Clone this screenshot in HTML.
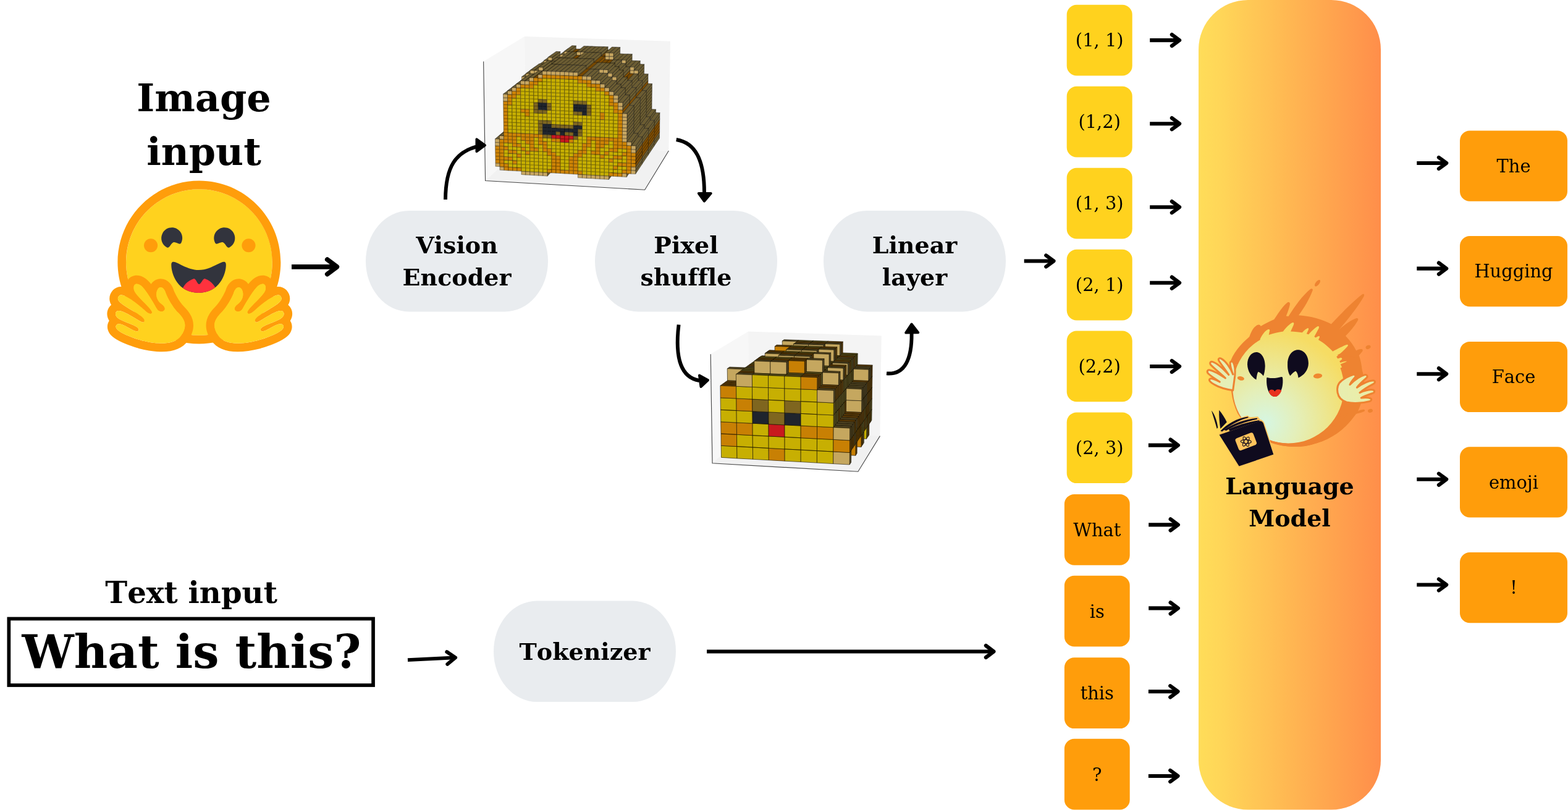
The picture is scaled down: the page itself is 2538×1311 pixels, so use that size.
<!DOCTYPE html>
<html lang="en">
<head>
<meta charset="utf-8">
<title>Vision language model pipeline</title>
<style>
html,body{margin:0;padding:0;background:#fff;}
body{width:2538px;height:1311px;overflow:hidden;}
svg{display:block;will-change:transform;}
text{font-family:"DejaVu Serif","Liberation Serif",serif;fill:#000;font-kerning:none;font-variant-ligatures:none;font-feature-settings:"liga" 0,"kern" 0;}
</style>
</head>
<body>
<svg width="2538" height="1311" viewBox="0 0 2538 1311">
<defs>
<linearGradient id="lmg" gradientUnits="userSpaceOnUse" x1="1940" y1="0" x2="2235" y2="0">
<stop offset="0" stop-color="#FFDD59"/>
<stop offset="0.12" stop-color="#FFD658"/>
<stop offset="1" stop-color="#FF8E4A"/>
</linearGradient>
</defs>
<rect x="1940" y="0" width="295" height="1310.5" rx="80" ry="80" fill="url(#lmg)"/>
<rect x="592" y="341" width="295" height="163.4" rx="70" ry="81.7" fill="#E9ECEF"/>
<rect x="963" y="341" width="295" height="163.4" rx="70" ry="81.7" fill="#E9ECEF"/>
<rect x="1333" y="341" width="295" height="163.4" rx="70" ry="81.7" fill="#E9ECEF"/>
<rect x="799" y="972.6" width="295" height="163.4" rx="70" ry="81.7" fill="#E9ECEF"/>
<rect x="1726.7" y="7.8" width="106" height="114.7" rx="16" fill="#FFD21E"/>
<rect x="1726.7" y="139.8" width="106" height="114.7" rx="16" fill="#FFD21E"/>
<rect x="1726.7" y="271.8" width="106" height="114.7" rx="16" fill="#FFD21E"/>
<rect x="1726.7" y="403.8" width="106" height="114.7" rx="16" fill="#FFD21E"/>
<rect x="1726.7" y="535.5" width="106" height="114.7" rx="16" fill="#FFD21E"/>
<rect x="1726.7" y="667.4" width="106" height="114.7" rx="16" fill="#FFD21E"/>
<rect x="1722.9" y="799.9" width="105.8" height="114.8" rx="16" fill="#FF9D0B"/>
<rect x="1722.9" y="931.7" width="105.8" height="114.8" rx="16" fill="#FF9D0B"/>
<rect x="1722.9" y="1064.3" width="105.8" height="114.8" rx="16" fill="#FF9D0B"/>
<rect x="1722.9" y="1195.7" width="105.8" height="114.8" rx="16" fill="#FF9D0B"/>
<rect x="2363" y="211.6" width="174" height="114.2" rx="16" fill="#FF9D0B"/>
<rect x="2363" y="382.0" width="174" height="114.2" rx="16" fill="#FF9D0B"/>
<rect x="2363" y="552.9" width="174" height="114.2" rx="16" fill="#FF9D0B"/>
<rect x="2363" y="723.3" width="174" height="114.2" rx="16" fill="#FF9D0B"/>
<rect x="2363" y="894.0" width="174" height="114.2" rx="16" fill="#FF9D0B"/>
<polygon points="782.6,99.4 785.6,292.5 850.7,232.3 849.1,58.9" fill="#f7f7f7"/>
<polygon points="849.1,58.9 1085.0,66.8 1082.4,244.0 850.7,232.3" fill="#f4f4f4"/>
<polygon points="785.6,292.5 1043.7,307.2 1082.4,244.0 850.7,232.3" fill="#f1f1f1"/>
<polyline points="782.6,99.4 785.6,292.5 1043.7,307.2 1082.4,244.0" fill="none" stroke="#4a4a4a" stroke-width="1.15" stroke-linejoin="miter"/>
<g stroke="#000" stroke-opacity="0.36" stroke-width="1.1" stroke-linejoin="round">
<path fill="#6c5d33" d="M848.8 185.2L855.2 185.5L869.2 173.6L862.9 173.3ZM855.2 180.3L861.6 180.6L875.5 168.9L869.2 168.6ZM861.1 118.1L867.6 118.4L881.4 108.2L875.1 107.9ZM867.6 107.9L874.1 108.2L887.7 98.2L881.4 98.0Z"/>
<path fill="#c8a761" d="M867.6 113.2L874.1 113.4L874.1 108.2L867.6 107.9Z"/>
<path fill="#6c5d33" d="M874.1 108.2L880.6 108.4L894.1 98.4L887.7 98.2ZM880.5 97.9L887.1 98.1L900.4 88.4L894.0 88.2Z"/>
<path fill="#c8a761" d="M880.6 103.1L887.1 103.4L887.1 98.1L880.5 97.9Z"/>
<path fill="#6e5f34" d="M893.6 98.4L906.8 88.6L906.8 83.5L893.6 93.1Z"/>
<path fill="#6c5d33" d="M887.1 92.8L893.6 93.1L906.8 83.5L900.4 83.2Z"/>
<path fill="#c8a761" d="M887.1 98.1L893.6 98.4L893.6 93.1L887.1 92.8Z"/>
<path fill="#6c5d33" d="M893.6 98.4L900.2 98.6L913.2 88.9L906.8 88.6ZM900.2 93.3L906.7 93.6L919.6 83.9L913.2 83.7ZM906.7 88.3L913.3 88.5L926.0 79.0L919.6 78.8Z"/>
<path fill="#c8a761" d="M906.7 93.6L913.3 93.8L913.3 88.5L906.7 88.3ZM913.3 93.8L919.9 94.1L919.9 88.8L913.3 88.5Z"/>
<path fill="#6e5f34" d="M919.9 88.8L932.4 79.2L932.4 74.1L919.9 83.5Z"/>
<path fill="#6c5d33" d="M913.3 83.2L919.9 83.5L932.4 74.1L926.0 73.8Z"/>
<path fill="#c8a761" d="M913.3 88.5L919.9 88.8L919.9 83.5L913.3 83.2Z"/>
<path fill="#6e5f34" d="M926.7 240.5L938.9 227.2L938.9 222.2L926.7 235.3Z"/>
<path fill="#764800" d="M919.9 88.8L926.5 89.0L938.9 79.4L932.4 79.2ZM926.5 89.0L933.1 89.2L945.3 79.7L938.9 79.4Z"/>
<path fill="#6c5d33" d="M933.1 83.9L939.7 84.2L951.8 74.7L945.3 74.5Z"/>
<path fill="#c8a761" d="M933.1 89.2L939.7 89.5L939.7 84.2L933.1 83.9Z"/>
<path fill="#6c5d33" d="M939.7 84.2L946.3 84.4L958.2 74.9L951.8 74.7Z"/>
<path fill="#c8a761" d="M939.7 89.5L946.3 89.7L946.3 84.4L939.7 84.2Z"/>
<path fill="#6c5d33" d="M946.3 84.4L953.0 84.6L964.7 75.2L958.2 74.9ZM953.0 84.6L959.6 84.9L971.2 75.4L964.7 75.2ZM959.6 84.9L966.3 85.1L977.7 75.6L971.2 75.4Z"/>
<path fill="#6e5f34" d="M972.9 90.7L984.1 81.0L984.1 75.8L972.9 85.3Z"/>
<path fill="#6c5d33" d="M966.3 85.1L972.9 85.3L984.1 75.8L977.7 75.6Z"/>
<path fill="#764800" d="M972.9 90.7L979.6 90.9L990.6 81.3L984.1 81.0Z"/>
<path fill="#c8a761" d="M979.6 96.2L986.2 96.5L986.3 91.2L979.6 90.9Z"/>
<path fill="#6c5d33" d="M979.6 85.6L986.3 85.8L997.2 76.3L990.6 76.1Z"/>
<path fill="#c8a761" d="M979.6 90.9L986.3 91.2L986.3 85.8L979.6 85.6Z"/>
<path fill="#6e5f34" d="M992.9 96.7L1003.6 86.9L1003.6 81.7L992.9 91.4Z"/>
<path fill="#c8a761" d="M986.2 96.5L992.9 96.7L992.9 91.4L986.3 91.2Z"/>
<path fill="#6e5f34" d="M992.9 91.4L1003.6 81.7L1003.7 76.5L993.0 86.1Z"/>
<path fill="#6c5d33" d="M986.3 85.8L993.0 86.1L1003.7 76.5L997.2 76.3Z"/>
<path fill="#c8a761" d="M986.3 91.2L992.9 91.4L993.0 86.1L986.3 85.8Z"/>
<path fill="#6c5d33" d="M992.9 96.7L999.6 97.0L1010.1 87.2L1003.6 86.9ZM999.6 97.0L1006.3 97.2L1016.7 87.4L1010.1 87.2Z"/>
<path fill="#6e5f34" d="M1012.9 108.1L1023.1 98.0L1023.2 92.8L1013.0 102.8ZM1013.0 102.8L1023.2 92.8L1023.2 87.6L1013.0 97.5Z"/>
<path fill="#6c5d33" d="M1006.3 97.2L1013.0 97.5L1023.2 87.6L1016.7 87.4Z"/>
<path fill="#c8a761" d="M1006.3 102.6L1013.0 102.8L1013.0 97.5L1006.3 97.2Z"/>
<path fill="#6e5f34" d="M1018.5 245.2L1028.5 231.6L1028.5 226.6L1018.6 240.0Z"/>
<path fill="#6c5d33" d="M1012.9 108.1L1019.6 108.4L1029.7 98.3L1023.1 98.0Z"/>
<path fill="#c8a761" d="M1019.6 119.0L1026.3 119.3L1026.3 114.0L1019.6 113.7Z"/>
<path fill="#6e5f34" d="M1026.3 114.0L1036.2 103.7L1036.2 98.5L1026.4 108.6Z"/>
<path fill="#6c5d33" d="M1019.6 108.4L1026.4 108.6L1036.2 98.5L1029.7 98.3Z"/>
<path fill="#c8a761" d="M1019.6 113.7L1026.3 114.0L1026.4 108.6L1019.6 108.4Z"/>
<path fill="#6e5f34" d="M1032.9 130.2L1042.5 119.5L1042.6 114.3L1032.9 124.9ZM1032.9 124.9L1042.6 114.3L1042.7 109.1L1033.0 119.6ZM1033.0 119.6L1042.7 109.1L1042.7 104.0L1033.0 114.2Z"/>
<path fill="#6c5d33" d="M1026.3 114.0L1033.0 114.2L1042.7 104.0L1036.2 103.7Z"/>
<path fill="#c8a761" d="M1026.3 119.3L1033.0 119.6L1033.0 114.2L1026.3 114.0Z"/>
<path fill="#845002" d="M1039.4 146.4L1048.9 135.3L1049.0 130.1L1039.5 141.1Z"/>
<path fill="#6e5f34" d="M1039.5 141.1L1049.0 130.1L1049.0 125.0L1039.5 135.8ZM1039.5 135.8L1049.0 125.0L1049.1 119.8L1039.6 130.5Z"/>
<path fill="#6c5d33" d="M1032.9 130.2L1039.6 130.5L1049.1 119.8L1042.5 119.5Z"/>
<path fill="#6e5f34" d="M1045.2 241.3L1054.4 227.8L1054.5 222.8L1045.2 236.1ZM1045.7 189.0L1055.0 176.8L1055.1 171.7L1045.8 183.7ZM1045.8 183.7L1055.1 171.7L1055.1 166.5L1045.8 178.4ZM1045.8 178.4L1055.1 166.5L1055.2 161.4L1045.9 173.2ZM1045.9 173.2L1055.2 161.4L1055.2 156.2L1045.9 167.9ZM1045.9 167.9L1055.2 156.2L1055.3 151.1L1046.0 162.6ZM1046.0 162.6L1055.3 151.1L1055.4 145.9L1046.0 157.3ZM1046.0 157.3L1055.4 145.9L1055.4 140.8L1046.1 152.0ZM1046.1 152.0L1055.4 140.8L1055.5 135.6L1046.2 146.7Z"/>
<path fill="#6c5d33" d="M1039.4 146.4L1046.2 146.7L1055.5 135.6L1048.9 135.3Z"/>
<path fill="#6e5f34" d="M1052.4 194.5L1061.5 182.2L1061.5 177.1L1052.4 189.3Z"/>
<path fill="#6c5d33" d="M1045.7 189.0L1052.4 189.3L1061.5 177.1L1055.0 176.8Z"/>
<path fill="#6e5f34" d="M1058.6 236.8L1067.5 223.4L1067.5 218.3L1058.6 231.5ZM1058.6 231.5L1067.5 218.3L1067.6 213.2L1058.7 226.3Z"/>
<path fill="#845002" d="M1058.7 226.3L1067.6 213.2L1067.7 208.1L1058.7 221.1ZM1058.7 221.1L1067.7 208.1L1067.7 203.0L1058.8 215.9ZM1058.8 215.9L1067.7 203.0L1067.8 197.9L1058.9 210.6ZM1058.9 210.6L1067.8 197.9L1067.9 192.8L1058.9 205.4Z"/>
<path fill="#6e5f34" d="M1058.9 205.4L1067.9 192.8L1067.9 187.6L1059.0 200.1ZM1059.0 200.1L1067.9 187.6L1068.0 182.5L1059.1 194.8Z"/>
<path fill="#6c5d33" d="M1052.4 194.5L1059.1 194.8L1068.0 182.5L1061.5 182.2ZM833.9 197.7L840.5 198.0L855.2 185.5L848.8 185.2ZM840.4 192.7L847.1 193.0L861.6 180.6L855.2 180.3ZM846.4 128.9L853.1 129.2L867.6 118.4L861.1 118.1ZM853.1 123.8L859.7 124.1L874.1 113.4L867.6 113.2ZM859.7 118.7L866.4 118.9L880.6 108.4L874.1 108.2ZM866.4 113.5L873.1 113.8L887.1 103.4L880.6 103.1ZM873.0 108.4L879.7 108.6L893.6 98.4L887.1 98.1ZM879.7 108.6L886.5 108.9L900.2 98.6L893.6 98.4ZM886.4 103.5L893.2 103.7L906.7 93.6L900.2 93.3Z"/>
<path fill="#764800" d="M893.2 103.7L899.9 104.0L913.3 93.8L906.7 93.6ZM899.9 104.0L906.7 104.2L919.9 94.1L913.3 93.8Z"/>
<path fill="#6e5f34" d="M913.9 254.5L926.7 240.5L926.7 235.3L913.8 249.2Z"/>
<path fill="#6c5d33" d="M906.6 93.4L913.4 93.6L926.5 83.7L919.9 83.5Z"/>
<path fill="#6e5f34" d="M920.2 99.3L933.1 89.2L933.1 83.9L920.2 93.9Z"/>
<path fill="#6c5d33" d="M913.4 93.6L920.2 93.9L933.1 83.9L926.5 83.7Z"/>
<path fill="#764800" d="M920.2 99.3L927.0 99.6L939.7 89.5L933.1 89.2ZM927.0 99.6L933.8 99.8L946.3 89.7L939.7 89.5Z"/>
<path fill="#6c5d33" d="M933.8 94.4L940.6 94.6L953.0 84.6L946.3 84.4ZM940.6 94.6L947.4 94.9L959.6 84.9L953.0 84.6ZM947.4 94.9L954.3 95.1L966.3 85.1L959.6 84.9Z"/>
<path fill="#6e5f34" d="M961.1 100.8L972.9 90.7L972.9 85.3L961.1 95.4Z"/>
<path fill="#6c5d33" d="M954.3 95.1L961.1 95.4L972.9 85.3L966.3 85.1Z"/>
<path fill="#845002" d="M967.9 106.6L979.6 96.2L979.6 90.9L967.9 101.1Z"/>
<path fill="#764800" d="M961.1 100.8L967.9 101.1L979.6 90.9L972.9 90.7ZM967.9 106.6L974.8 106.8L986.2 96.5L979.6 96.2ZM974.8 106.8L981.6 107.1L992.9 96.7L986.2 96.5Z"/>
<path fill="#6c5d33" d="M981.6 107.1L988.5 107.3L999.6 97.0L992.9 96.7Z"/>
<path fill="#6e5f34" d="M995.3 113.1L1006.3 102.6L1006.3 97.2L995.4 107.6Z"/>
<path fill="#6c5d33" d="M988.5 107.3L995.4 107.6L1006.3 97.2L999.6 97.0Z"/>
<path fill="#6e5f34" d="M1002.2 118.8L1012.9 108.1L1013.0 102.8L1002.2 113.3Z"/>
<path fill="#6c5d33" d="M995.3 113.1L1002.2 113.3L1013.0 102.8L1006.3 102.6Z"/>
<path fill="#6e5f34" d="M1008.1 259.4L1018.5 245.2L1018.6 240.0L1008.1 254.1Z"/>
<path fill="#845002" d="M1009.0 130.0L1019.6 119.0L1019.6 113.7L1009.0 124.5Z"/>
<path fill="#6e5f34" d="M1009.0 124.5L1019.6 113.7L1019.6 108.4L1009.1 119.1Z"/>
<path fill="#6c5d33" d="M1002.2 118.8L1009.1 119.1L1019.6 108.4L1012.9 108.1Z"/>
<path fill="#764800" d="M1009.0 130.0L1015.9 130.3L1026.3 119.3L1019.6 119.0Z"/>
<path fill="#6e5f34" d="M1022.7 141.5L1032.9 130.2L1032.9 124.9L1022.7 136.0ZM1022.7 136.0L1032.9 124.9L1033.0 119.6L1022.8 130.6Z"/>
<path fill="#6c5d33" d="M1015.9 130.3L1022.8 130.6L1033.0 119.6L1026.3 119.3Z"/>
<path fill="#845002" d="M1029.4 158.1L1039.4 146.4L1039.5 141.1L1029.5 152.7Z"/>
<path fill="#6e5f34" d="M1029.5 152.7L1039.5 141.1L1039.5 135.8L1029.5 147.2ZM1029.5 147.2L1039.5 135.8L1039.6 130.5L1029.6 141.8Z"/>
<path fill="#6c5d33" d="M1022.7 141.5L1029.6 141.8L1039.6 130.5L1032.9 130.2Z"/>
<path fill="#6e5f34" d="M1035.4 255.5L1045.2 241.3L1045.2 236.1L1035.4 250.2ZM1035.9 201.8L1045.7 189.0L1045.8 183.7L1036.0 196.4ZM1036.0 196.4L1045.8 183.7L1045.8 178.4L1036.0 191.0ZM1036.0 191.0L1045.8 178.4L1045.9 173.2L1036.1 185.6ZM1036.1 185.6L1045.9 173.2L1045.9 167.9L1036.1 180.2ZM1036.1 180.2L1045.9 167.9L1046.0 162.6L1036.2 174.7ZM1036.2 174.7L1046.0 162.6L1046.0 157.3L1036.2 169.3ZM1036.2 169.3L1046.0 157.3L1046.1 152.0L1036.3 163.9ZM1036.3 163.9L1046.1 152.0L1046.2 146.7L1036.3 158.4Z"/>
<path fill="#6c5d33" d="M1029.4 158.1L1036.3 158.4L1046.2 146.7L1039.4 146.4Z"/>
<path fill="#6e5f34" d="M1042.7 207.5L1052.4 194.5L1052.4 189.3L1042.8 202.1Z"/>
<path fill="#6c5d33" d="M1035.9 201.8L1042.8 202.1L1052.4 189.3L1045.7 189.0Z"/>
<path fill="#6e5f34" d="M1049.1 250.9L1058.6 236.8L1058.6 231.5L1049.2 245.5ZM1049.2 245.5L1058.6 231.5L1058.7 226.3L1049.3 240.2Z"/>
<path fill="#845002" d="M1049.3 240.2L1058.7 226.3L1058.7 221.1L1049.3 234.8ZM1049.3 234.8L1058.7 221.1L1058.8 215.9L1049.4 229.4ZM1049.4 229.4L1058.8 215.9L1058.9 210.6L1049.4 224.0ZM1049.4 224.0L1058.9 210.6L1058.9 205.4L1049.5 218.7Z"/>
<path fill="#6e5f34" d="M1049.5 218.7L1058.9 205.4L1059.0 200.1L1049.6 213.3ZM1049.6 213.3L1059.0 200.1L1059.1 194.8L1049.6 207.9Z"/>
<path fill="#6c5d33" d="M1042.7 207.5L1049.6 207.9L1059.1 194.8L1052.4 194.5ZM818.1 210.8L824.9 211.2L840.5 198.0L833.9 197.7ZM824.9 205.7L831.6 206.0L847.1 193.0L840.4 192.7ZM830.9 140.3L837.8 140.6L853.1 129.2L846.4 128.9ZM837.7 135.0L844.6 135.3L859.7 124.1L853.1 123.8ZM844.5 124.2L851.3 124.5L866.4 113.5L859.7 113.3Z"/>
<path fill="#c8a761" d="M844.5 129.8L851.4 130.1L851.3 124.5L844.5 124.2Z"/>
<path fill="#6c5d33" d="M851.3 119.0L858.2 119.2L873.0 108.4L866.3 108.1Z"/>
<path fill="#c8a761" d="M851.3 124.5L858.2 124.8L858.2 119.2L851.3 119.0Z"/>
<path fill="#6c5d33" d="M858.1 113.7L865.0 113.9L879.7 103.2L873.0 103.0Z"/>
<path fill="#c8a761" d="M858.2 119.2L865.1 119.5L865.0 113.9L858.1 113.7Z"/>
<path fill="#6c5d33" d="M865.0 113.9L871.9 114.2L886.4 103.5L879.7 103.2Z"/>
<path fill="#c8a761" d="M865.1 119.5L872.0 119.8L871.9 114.2L865.0 113.9Z"/>
<path fill="#6e5f34" d="M878.9 114.5L893.2 103.7L893.1 98.3L878.8 108.9Z"/>
<path fill="#6c5d33" d="M871.9 108.6L878.8 108.9L893.1 98.3L886.4 98.1Z"/>
<path fill="#c8a761" d="M871.9 114.2L878.9 114.5L878.8 108.9L871.9 108.6Z"/>
<path fill="#764800" d="M878.9 114.5L885.8 114.7L899.9 104.0L893.2 103.7Z"/>
<path fill="#6c5d33" d="M885.8 109.2L892.7 109.4L906.7 98.8L899.9 98.6Z"/>
<path fill="#6e5f34" d="M900.3 269.3L913.9 254.5L913.8 249.2L900.3 263.8Z"/>
<path fill="#6c5d33" d="M892.7 103.8L899.6 104.1L913.4 93.6L906.6 93.4ZM899.6 104.1L906.6 104.4L920.2 93.9L913.4 93.6ZM906.6 104.4L913.6 104.6L927.0 94.1L920.2 93.9ZM913.6 104.6L920.5 104.9L933.8 94.4L927.0 94.1ZM920.5 104.9L927.5 105.2L940.6 94.6L933.8 94.4ZM927.5 105.2L934.5 105.4L947.4 94.9L940.6 94.6ZM934.5 105.4L941.6 105.7L954.3 95.1L947.4 94.9Z"/>
<path fill="#6e5f34" d="M948.6 111.6L961.1 100.8L961.1 95.4L948.6 106.0Z"/>
<path fill="#6c5d33" d="M941.6 105.7L948.6 106.0L961.1 95.4L954.3 95.1Z"/>
<path fill="#764800" d="M948.6 111.6L955.6 111.8L967.9 101.1L961.1 100.8Z"/>
<path fill="#6c5d33" d="M955.6 111.8L962.6 112.1L974.8 101.3L967.9 101.1ZM962.6 112.1L969.7 112.4L981.6 101.6L974.8 101.3ZM969.7 112.4L976.7 112.7L988.5 101.9L981.6 101.6Z"/>
<path fill="#c8a761" d="M969.7 118.0L976.7 118.3L976.7 112.7L969.7 112.4Z"/>
<path fill="#6e5f34" d="M983.8 118.6L995.4 107.6L995.4 102.1L983.8 112.9Z"/>
<path fill="#6c5d33" d="M976.7 112.7L983.8 112.9L995.4 102.1L988.5 101.9Z"/>
<path fill="#c8a761" d="M976.7 118.3L983.8 118.6L983.8 112.9L976.7 112.7Z"/>
<path fill="#6e5f34" d="M990.8 124.5L1002.2 113.3L1002.2 107.9L990.9 118.8Z"/>
<path fill="#6c5d33" d="M983.8 118.6L990.9 118.8L1002.2 107.9L995.4 107.6Z"/>
<path fill="#c8a761" d="M983.8 124.2L990.8 124.5L990.9 118.8L983.8 118.6Z"/>
<path fill="#6e5f34" d="M997.1 274.5L1008.1 259.4L1008.1 254.1L997.1 269.0ZM997.9 136.0L1009.0 124.5L1009.1 119.1L997.9 130.4ZM997.9 130.4L1009.1 119.1L1009.1 113.6L997.9 124.7Z"/>
<path fill="#6c5d33" d="M990.8 124.5L997.9 124.7L1009.1 113.6L1002.2 113.3Z"/>
<path fill="#c8a761" d="M990.8 130.1L997.9 130.4L997.9 124.7L990.8 124.5Z"/>
<path fill="#6e5f34" d="M1004.9 141.9L1015.9 130.3L1015.9 124.8L1004.9 136.3Z"/>
<path fill="#6c5d33" d="M997.9 136.0L1004.9 136.3L1015.9 124.8L1009.0 124.5Z"/>
<path fill="#6e5f34" d="M1011.9 153.4L1022.7 141.5L1022.7 136.0L1011.9 147.8ZM1011.9 147.8L1022.7 136.0L1022.8 130.6L1012.0 142.2Z"/>
<path fill="#6c5d33" d="M1004.9 141.9L1012.0 142.2L1022.8 130.6L1015.9 130.3Z"/>
<path fill="#845002" d="M1018.9 170.5L1029.4 158.1L1029.5 152.7L1018.9 164.9Z"/>
<path fill="#6e5f34" d="M1018.9 164.9L1029.5 152.7L1029.5 147.2L1018.9 159.3ZM1018.9 159.3L1029.5 147.2L1029.6 141.8L1019.0 153.7Z"/>
<path fill="#6c5d33" d="M1011.9 153.4L1019.0 153.7L1029.6 141.8L1022.7 141.5Z"/>
<path fill="#6e5f34" d="M1025.1 270.5L1035.4 255.5L1035.4 250.2L1025.1 265.0ZM1025.6 215.4L1035.9 201.8L1036.0 196.4L1025.6 209.8ZM1025.6 209.8L1036.0 196.4L1036.0 191.0L1025.7 204.3ZM1025.7 204.3L1036.0 191.0L1036.1 185.6L1025.7 198.7ZM1025.7 198.7L1036.1 185.6L1036.1 180.2L1025.8 193.2ZM1025.8 193.2L1036.1 180.2L1036.2 174.7L1025.8 187.6ZM1025.8 187.6L1036.2 174.7L1036.2 169.3L1025.8 182.0ZM1025.8 182.0L1036.2 169.3L1036.3 163.9L1025.9 176.4ZM1025.9 176.4L1036.3 163.9L1036.3 158.4L1025.9 170.8Z"/>
<path fill="#6c5d33" d="M1018.9 170.5L1025.9 170.8L1036.3 158.4L1029.4 158.1Z"/>
<path fill="#6e5f34" d="M1032.6 221.3L1042.7 207.5L1042.8 202.1L1032.6 215.7Z"/>
<path fill="#6c5d33" d="M1025.6 215.4L1032.6 215.7L1042.8 202.1L1035.9 201.8Z"/>
<path fill="#6e5f34" d="M1039.2 265.8L1049.1 250.9L1049.2 245.5L1039.3 260.3ZM1039.3 260.3L1049.2 245.5L1049.3 240.2L1039.3 254.8Z"/>
<path fill="#845002" d="M1039.3 254.8L1049.3 240.2L1049.3 234.8L1039.4 249.3ZM1039.4 249.3L1049.3 234.8L1049.4 229.4L1039.4 243.7ZM1039.4 243.7L1049.4 229.4L1049.4 224.0L1039.5 238.2ZM1039.5 238.2L1049.4 224.0L1049.5 218.7L1039.5 232.7Z"/>
<path fill="#6e5f34" d="M1039.5 232.7L1049.5 218.7L1049.6 213.3L1039.6 227.2ZM1039.6 227.2L1049.6 213.3L1049.6 207.9L1039.6 221.6Z"/>
<path fill="#6c5d33" d="M1032.6 221.3L1039.6 221.6L1049.6 207.9L1042.7 207.5Z"/>
<path fill="#c8a761" d="M802.1 269.2L809.1 269.6L809.0 264.0L802.1 263.7Z"/>
<path fill="#ce8405" d="M802.1 263.7L809.0 264.0L808.9 258.5L802.0 258.1ZM802.0 258.1L808.9 258.5L808.8 252.9L801.9 252.6ZM801.9 252.6L808.8 252.9L808.8 247.4L801.8 247.0ZM801.8 247.0L808.8 247.4L808.7 241.8L801.7 241.5ZM801.7 241.5L808.7 241.8L808.6 236.3L801.7 235.9Z"/>
<path fill="#c8a761" d="M801.7 235.9L808.6 236.3L808.5 230.7L801.6 230.3Z"/>
<path fill="#6c5d33" d="M801.5 224.8L808.5 225.1L824.9 211.2L818.1 210.8Z"/>
<path fill="#c8a761" d="M801.6 230.3L808.5 230.7L808.5 225.1L801.5 224.8ZM809.1 275.1L816.1 275.5L816.0 269.9L809.1 269.6Z"/>
<path fill="#ce8405" d="M809.1 269.6L816.0 269.9L815.9 264.4L809.0 264.0ZM809.0 264.0L815.9 264.4L815.9 258.9L808.9 258.5ZM808.9 258.5L815.9 258.9L815.8 253.3L808.8 252.9ZM808.8 252.9L815.8 253.3L815.7 247.7L808.8 247.4ZM808.8 247.4L815.7 247.7L815.7 242.2L808.7 241.8ZM808.7 241.8L815.7 242.2L815.6 236.6L808.6 236.3ZM808.6 236.3L815.6 236.6L815.5 231.0L808.5 230.7ZM808.5 230.7L815.5 231.0L815.4 225.5L808.5 225.1Z"/>
<path fill="#6c5d33" d="M808.4 219.5L815.4 219.9L831.6 206.0L824.9 205.7Z"/>
<path fill="#c8a761" d="M808.5 225.1L815.4 225.5L815.4 219.9L808.4 219.5Z"/>
<path fill="#ce8405" d="M816.1 275.5L823.0 275.9L823.0 270.3L816.0 269.9ZM816.0 269.9L823.0 270.3L822.9 264.8L815.9 264.4Z"/>
<path fill="#c7af02" d="M815.9 264.4L822.9 264.8L822.8 259.2L815.9 258.9Z"/>
<path fill="#ce8405" d="M815.9 258.9L822.8 259.2L822.8 253.7L815.8 253.3Z"/>
<path fill="#c7af02" d="M815.8 253.3L822.8 253.7L822.7 248.1L815.7 247.7ZM815.7 247.7L822.7 248.1L822.6 242.5L815.7 242.2Z"/>
<path fill="#ce8405" d="M815.7 242.2L822.6 242.5L822.6 237.0L815.6 236.6Z"/>
<path fill="#c7af02" d="M815.6 236.6L822.6 237.0L822.5 231.4L815.5 231.0Z"/>
<path fill="#ce8405" d="M815.5 231.0L822.5 231.4L822.4 225.8L815.4 225.5ZM815.4 225.5L822.4 225.8L822.4 220.2L815.4 219.9ZM815.4 219.9L822.4 220.2L822.3 214.6L815.3 214.3ZM815.3 214.3L822.3 214.6L822.2 209.0L815.2 208.7ZM815.2 208.7L822.2 209.0L822.1 203.4L815.2 203.1ZM815.2 203.1L822.1 203.4L822.1 197.8L815.1 197.4ZM815.1 197.4L822.1 197.8L822.0 192.1L815.0 191.8ZM815.0 191.8L822.0 192.1L821.9 186.5L814.9 186.2ZM814.9 186.2L821.9 186.5L821.9 180.9L814.9 180.6ZM814.9 180.6L821.9 180.9L821.8 175.2L814.8 174.9ZM814.8 174.9L821.8 175.2L821.7 169.6L814.7 169.3ZM814.7 169.3L821.7 169.6L821.7 163.9L814.7 163.6Z"/>
<path fill="#c8a761" d="M814.7 163.6L821.7 163.9L821.6 158.3L814.6 158.0Z"/>
<path fill="#6c5d33" d="M814.5 152.3L821.5 152.6L837.8 140.6L830.9 140.3Z"/>
<path fill="#c8a761" d="M814.6 158.0L821.6 158.3L821.5 152.6L814.5 152.3Z"/>
<path fill="#ce8405" d="M823.0 275.9L830.0 276.2L829.9 270.7L823.0 270.3Z"/>
<path fill="#c7af02" d="M823.0 270.3L829.9 270.7L829.8 265.2L822.9 264.8ZM822.9 264.8L829.8 265.2L829.8 259.6L822.8 259.2Z"/>
<path fill="#ce8405" d="M822.8 259.2L829.8 259.6L829.7 254.0L822.8 253.7Z"/>
<path fill="#c7af02" d="M822.8 253.7L829.7 254.0L829.7 248.5L822.7 248.1Z"/>
<path fill="#ce8405" d="M822.7 248.1L829.7 248.5L829.6 242.9L822.6 242.5Z"/>
<path fill="#c7af02" d="M822.6 242.5L829.6 242.9L829.5 237.3L822.6 237.0ZM822.6 237.0L829.5 237.3L829.5 231.7L822.5 231.4Z"/>
<path fill="#ce8405" d="M822.5 231.4L829.5 231.7L829.4 226.2L822.4 225.8ZM822.4 225.8L829.4 226.2L829.3 220.6L822.4 220.2ZM822.4 220.2L829.3 220.6L829.3 215.0L822.3 214.6Z"/>
<path fill="#c7af02" d="M822.3 214.6L829.3 215.0L829.2 209.3L822.2 209.0ZM822.2 209.0L829.2 209.3L829.2 203.7L822.1 203.4ZM822.1 203.4L829.2 203.7L829.1 198.1L822.1 197.8ZM822.1 197.8L829.1 198.1L829.0 192.5L822.0 192.1ZM822.0 192.1L829.0 192.5L829.0 186.8L821.9 186.5ZM821.9 186.5L829.0 186.8L828.9 181.2L821.9 180.9ZM821.9 180.9L828.9 181.2L828.8 175.5L821.8 175.2ZM821.8 175.2L828.8 175.5L828.8 169.9L821.7 169.6Z"/>
<path fill="#ce8405" d="M821.7 169.6L828.8 169.9L828.7 164.2L821.7 163.9ZM821.7 163.9L828.7 164.2L828.6 158.6L821.6 158.3ZM821.6 158.3L828.6 158.6L828.6 152.9L821.5 152.6Z"/>
<path fill="#6c5d33" d="M821.5 146.9L828.5 147.2L844.6 135.3L837.7 135.0Z"/>
<path fill="#c8a761" d="M821.5 152.6L828.6 152.9L828.5 147.2L821.5 146.9Z"/>
<path fill="#ce8405" d="M830.0 276.2L836.9 276.6L836.9 271.1L829.9 270.7Z"/>
<path fill="#c7af02" d="M829.9 270.7L836.9 271.1L836.8 265.5L829.8 265.2Z"/>
<path fill="#ce8405" d="M829.8 265.2L836.8 265.5L836.8 260.0L829.8 259.6Z"/>
<path fill="#c7af02" d="M829.8 259.6L836.8 260.0L836.7 254.4L829.7 254.0ZM829.7 254.0L836.7 254.4L836.6 248.8L829.7 248.5Z"/>
<path fill="#ce8405" d="M829.7 248.5L836.6 248.8L836.6 243.3L829.6 242.9Z"/>
<path fill="#c7af02" d="M829.6 242.9L836.6 243.3L836.5 237.7L829.5 237.3Z"/>
<path fill="#ce8405" d="M829.5 237.3L836.5 237.7L836.5 232.1L829.5 231.7ZM829.5 231.7L836.5 232.1L836.4 226.5L829.4 226.2ZM829.4 226.2L836.4 226.5L836.3 220.9L829.3 220.6ZM829.3 220.6L836.3 220.9L836.3 215.3L829.3 215.0Z"/>
<path fill="#c7af02" d="M829.3 215.0L836.3 215.3L836.2 209.7L829.2 209.3ZM829.2 209.3L836.2 209.7L836.2 204.1L829.2 203.7ZM829.2 203.7L836.2 204.1L836.1 198.4L829.1 198.1ZM829.1 198.1L836.1 198.4L836.0 192.8L829.0 192.5ZM829.0 192.5L836.0 192.8L836.0 187.2L829.0 186.8ZM829.0 186.8L836.0 187.2L835.9 181.5L828.9 181.2ZM828.9 181.2L835.9 181.5L835.9 175.9L828.8 175.5ZM828.8 175.5L835.9 175.9L835.8 170.2L828.8 169.9ZM828.8 169.9L835.8 170.2L835.7 164.5L828.7 164.2ZM828.7 164.2L835.7 164.5L835.7 158.9L828.6 158.6Z"/>
<path fill="#ce8405" d="M828.6 158.6L835.7 158.9L835.6 153.2L828.6 152.9ZM828.6 152.9L835.6 153.2L835.6 147.5L828.5 147.2Z"/>
<path fill="#6c5d33" d="M828.4 141.5L835.5 141.8L851.4 130.1L844.5 129.8Z"/>
<path fill="#c8a761" d="M828.5 147.2L835.6 147.5L835.5 141.8L828.4 141.5Z"/>
<path fill="#ce8405" d="M836.9 276.6L843.9 277.0L843.9 271.5L836.9 271.1Z"/>
<path fill="#c7af02" d="M836.9 271.1L843.9 271.5L843.8 265.9L836.8 265.5ZM836.8 265.5L843.8 265.9L843.7 260.3L836.8 260.0ZM836.8 260.0L843.7 260.3L843.7 254.8L836.7 254.4Z"/>
<path fill="#ce8405" d="M836.7 254.4L843.7 254.8L843.6 249.2L836.6 248.8Z"/>
<path fill="#c7af02" d="M836.6 248.8L843.6 249.2L843.6 243.6L836.6 243.3ZM836.6 243.3L843.6 243.6L843.5 238.0L836.5 237.7Z"/>
<path fill="#ce8405" d="M836.5 237.7L843.5 238.0L843.5 232.5L836.5 232.1Z"/>
<path fill="#c7af02" d="M836.5 232.1L843.5 232.5L843.4 226.9L836.4 226.5ZM836.4 226.5L843.4 226.9L843.4 221.3L836.3 220.9Z"/>
<path fill="#ce8405" d="M836.3 220.9L843.4 221.3L843.3 215.6L836.3 215.3Z"/>
<path fill="#c7af02" d="M836.3 215.3L843.3 215.6L843.2 210.0L836.2 209.7ZM836.2 209.7L843.2 210.0L843.2 204.4L836.2 204.1ZM836.2 204.1L843.2 204.4L843.1 198.8L836.1 198.4ZM836.1 198.4L843.1 198.8L843.1 193.1L836.0 192.8ZM836.0 192.8L843.1 193.1L843.0 187.5L836.0 187.2ZM836.0 187.2L843.0 187.5L843.0 181.8L835.9 181.5ZM835.9 181.5L843.0 181.8L842.9 176.2L835.9 175.9ZM835.9 175.9L842.9 176.2L842.9 170.5L835.8 170.2ZM835.8 170.2L842.9 170.5L842.8 164.9L835.7 164.5ZM835.7 164.5L842.8 164.9L842.7 159.2L835.7 158.9ZM835.7 158.9L842.7 159.2L842.7 153.5L835.6 153.2Z"/>
<path fill="#ce8405" d="M835.6 153.2L842.7 153.5L842.6 147.8L835.6 147.5ZM835.6 147.5L842.6 147.8L842.6 142.1L835.5 141.8Z"/>
<path fill="#6c5d33" d="M835.4 136.1L842.5 136.4L858.2 124.8L851.3 124.5Z"/>
<path fill="#c8a761" d="M835.5 141.8L842.6 142.1L842.5 136.4L835.4 136.1ZM844.0 282.5L850.9 282.9L850.9 277.4L843.9 277.0Z"/>
<path fill="#c7af02" d="M843.9 277.0L850.9 277.4L850.8 271.8L843.9 271.5ZM843.9 271.5L850.8 271.8L850.8 266.3L843.8 265.9ZM843.8 265.9L850.8 266.3L850.7 260.7L843.7 260.3ZM843.7 260.3L850.7 260.7L850.7 255.2L843.7 254.8ZM843.7 254.8L850.7 255.2L850.6 249.6L843.6 249.2ZM843.6 249.2L850.6 249.6L850.6 244.0L843.6 243.6Z"/>
<path fill="#ce8405" d="M843.6 243.6L850.6 244.0L850.5 238.4L843.5 238.0Z"/>
<path fill="#c7af02" d="M843.5 238.0L850.5 238.4L850.5 232.8L843.5 232.5ZM843.5 232.5L850.5 232.8L850.4 227.2L843.4 226.9Z"/>
<path fill="#ce8405" d="M843.4 226.9L850.4 227.2L850.4 221.6L843.4 221.3ZM843.4 221.3L850.4 221.6L850.3 216.0L843.3 215.6Z"/>
<path fill="#c7af02" d="M843.3 215.6L850.3 216.0L850.3 210.4L843.2 210.0ZM843.2 210.0L850.3 210.4L850.2 204.7L843.2 204.4ZM843.2 204.4L850.2 204.7L850.2 199.1L843.1 198.8ZM843.1 198.8L850.2 199.1L850.1 193.5L843.1 193.1ZM843.1 193.1L850.1 193.5L850.1 187.8L843.0 187.5ZM843.0 187.5L850.1 187.8L850.0 182.2L843.0 181.8Z"/>
<path fill="#ce8405" d="M843.0 181.8L850.0 182.2L850.0 176.5L842.9 176.2Z"/>
<path fill="#c7af02" d="M842.9 176.2L850.0 176.5L849.9 170.8L842.9 170.5ZM842.9 170.5L849.9 170.8L849.9 165.2L842.8 164.9ZM842.8 164.9L849.9 165.2L849.8 159.5L842.7 159.2ZM842.7 159.2L849.8 159.5L849.8 153.8L842.7 153.5ZM842.7 153.5L849.8 153.8L849.7 148.1L842.6 147.8ZM842.6 147.8L849.7 148.1L849.6 142.4L842.6 142.1Z"/>
<path fill="#ce8405" d="M842.6 142.1L849.6 142.4L849.6 136.7L842.5 136.4Z"/>
<path fill="#6c5d33" d="M842.5 130.7L849.5 131.0L865.1 119.5L858.2 119.2Z"/>
<path fill="#c8a761" d="M842.5 136.4L849.6 136.7L849.5 131.0L842.5 130.7ZM850.9 282.9L857.9 283.3L857.9 277.8L850.9 277.4Z"/>
<path fill="#c7af02" d="M850.9 277.4L857.9 277.8L857.8 272.2L850.8 271.8ZM850.8 271.8L857.8 272.2L857.8 266.7L850.8 266.3ZM850.8 266.3L857.8 266.7L857.7 261.1L850.7 260.7ZM850.7 260.7L857.7 261.1L857.7 255.5L850.7 255.2ZM850.7 255.2L857.7 255.5L857.6 249.9L850.6 249.6Z"/>
<path fill="#ce8405" d="M850.6 249.6L857.6 249.9L857.6 244.4L850.6 244.0Z"/>
<path fill="#c7af02" d="M850.6 244.0L857.6 244.4L857.5 238.8L850.5 238.4ZM850.5 238.4L857.5 238.8L857.5 233.2L850.5 232.8Z"/>
<path fill="#ce8405" d="M850.5 232.8L857.5 233.2L857.5 227.6L850.4 227.2ZM850.4 227.2L857.5 227.6L857.4 221.9L850.4 221.6ZM850.4 221.6L857.4 221.9L857.4 216.3L850.3 216.0Z"/>
<path fill="#c7af02" d="M850.3 216.0L857.4 216.3L857.3 210.7L850.3 210.4ZM850.3 210.4L857.3 210.7L857.3 205.1L850.2 204.7ZM850.2 204.7L857.3 205.1L857.2 199.4L850.2 199.1ZM850.2 199.1L857.2 199.4L857.2 193.8L850.1 193.5ZM850.1 193.5L857.2 193.8L857.1 188.1L850.1 187.8Z"/>
<path fill="#ce8405" d="M850.1 187.8L857.1 188.1L857.1 182.5L850.0 182.2ZM850.0 182.2L857.1 182.5L857.0 176.8L850.0 176.5Z"/>
<path fill="#c7af02" d="M850.0 176.5L857.0 176.8L857.0 171.2L849.9 170.8ZM849.9 170.8L857.0 171.2L856.9 165.5L849.9 165.2ZM849.9 165.2L856.9 165.5L856.9 159.8L849.8 159.5ZM849.8 159.5L856.9 159.8L856.8 154.1L849.8 153.8ZM849.8 153.8L856.8 154.1L856.8 148.4L849.7 148.1ZM849.7 148.1L856.8 148.4L856.7 142.7L849.6 142.4Z"/>
<path fill="#ce8405" d="M849.6 142.4L856.7 142.7L856.7 137.0L849.6 136.7Z"/>
<path fill="#6c5d33" d="M849.5 131.0L856.6 131.3L872.0 119.8L865.1 119.5Z"/>
<path fill="#c8a761" d="M849.6 136.7L856.7 137.0L856.6 131.3L849.5 131.0ZM857.9 283.3L864.9 283.7L864.9 278.2L857.9 277.8Z"/>
<path fill="#c7af02" d="M857.9 277.8L864.9 278.2L864.8 272.6L857.8 272.2ZM857.8 272.2L864.8 272.6L864.8 267.0L857.8 266.7ZM857.8 266.7L864.8 267.0L864.7 261.5L857.7 261.1ZM857.7 261.1L864.7 261.5L864.7 255.9L857.7 255.5ZM857.7 255.5L864.7 255.9L864.7 250.3L857.6 249.9ZM857.6 249.9L864.7 250.3L864.6 244.7L857.6 244.4Z"/>
<path fill="#ce8405" d="M857.6 244.4L864.6 244.7L864.6 239.1L857.5 238.8ZM857.5 238.8L864.6 239.1L864.5 233.5L857.5 233.2ZM857.5 233.2L864.5 233.5L864.5 227.9L857.5 227.6ZM857.5 227.6L864.5 227.9L864.4 222.3L857.4 221.9ZM857.4 221.9L864.4 222.3L864.4 216.7L857.4 216.3Z"/>
<path fill="#c7af02" d="M857.4 216.3L864.4 216.7L864.4 211.0L857.3 210.7ZM857.3 210.7L864.4 211.0L864.3 205.4L857.3 205.1ZM857.3 205.1L864.3 205.4L864.3 199.8L857.2 199.4ZM857.2 199.4L864.3 199.8L864.2 194.1L857.2 193.8ZM857.2 193.8L864.2 194.1L864.2 188.5L857.1 188.1ZM857.1 188.1L864.2 188.5L864.1 182.8L857.1 182.5ZM857.1 182.5L864.1 182.8L864.1 177.1L857.0 176.8ZM857.0 176.8L864.1 177.1L864.1 171.5L857.0 171.2ZM857.0 171.2L864.1 171.5L864.0 165.8L856.9 165.5ZM856.9 165.5L864.0 165.8L864.0 160.1L856.9 159.8ZM856.9 159.8L864.0 160.1L863.9 154.4L856.8 154.1ZM856.8 154.1L863.9 154.4L863.9 148.7L856.8 148.4ZM856.8 148.4L863.9 148.7L863.8 143.0L856.7 142.7Z"/>
<path fill="#ce8405" d="M856.7 142.7L863.8 143.0L863.8 137.3L856.7 137.0ZM856.7 137.0L863.8 137.3L863.7 131.6L856.6 131.3Z"/>
<path fill="#6c5d33" d="M856.6 125.6L863.7 125.8L878.9 114.5L871.9 114.2Z"/>
<path fill="#c8a761" d="M856.6 131.3L863.7 131.6L863.7 125.8L856.6 125.6ZM864.9 283.7L871.9 284.1L871.9 278.5L864.9 278.2Z"/>
<path fill="#c7af02" d="M864.9 278.2L871.9 278.5L871.9 273.0L864.8 272.6ZM864.8 272.6L871.9 273.0L871.8 267.4L864.8 267.0ZM864.8 267.0L871.8 267.4L871.8 261.8L864.7 261.5ZM864.7 261.5L871.8 261.8L871.7 256.3L864.7 255.9ZM864.7 255.9L871.7 256.3L871.7 250.7L864.7 250.3ZM864.7 250.3L871.7 250.7L871.7 245.1L864.6 244.7Z"/>
<path fill="#ce8405" d="M864.6 244.7L871.7 245.1L871.6 239.5L864.6 239.1Z"/>
<path fill="#c7af02" d="M864.6 239.1L871.6 239.5L871.6 233.9L864.5 233.5ZM864.5 233.5L871.6 233.9L871.5 228.3L864.5 227.9ZM864.5 227.9L871.5 228.3L871.5 222.6L864.4 222.3Z"/>
<path fill="#ce8405" d="M864.4 222.3L871.5 222.6L871.5 217.0L864.4 216.7Z"/>
<path fill="#c7af02" d="M864.4 216.7L871.5 217.0L871.4 211.4L864.4 211.0ZM864.4 211.0L871.4 211.4L871.4 205.7L864.3 205.4ZM864.3 205.4L871.4 205.7L871.3 200.1L864.3 199.8ZM864.3 199.8L871.3 200.1L871.3 194.5L864.2 194.1ZM864.2 194.1L871.3 194.5L871.3 188.8L864.2 188.5ZM864.2 188.5L871.3 188.8L871.2 183.1L864.1 182.8Z"/>
<path fill="#7f661f" d="M864.1 182.8L871.2 183.1L871.2 177.5L864.1 177.1ZM864.1 177.1L871.2 177.5L871.1 171.8L864.1 171.5ZM864.1 171.5L871.1 171.8L871.1 166.1L864.0 165.8Z"/>
<path fill="#c7af02" d="M864.0 165.8L871.1 166.1L871.1 160.4L864.0 160.1ZM864.0 160.1L871.1 160.4L871.0 154.7L863.9 154.4ZM863.9 154.4L871.0 154.7L871.0 149.0L863.9 148.7ZM863.9 148.7L871.0 149.0L870.9 143.3L863.8 143.0ZM863.8 143.0L870.9 143.3L870.9 137.6L863.8 137.3Z"/>
<path fill="#ce8405" d="M863.8 137.3L870.9 137.6L870.9 131.9L863.7 131.6Z"/>
<path fill="#764800" d="M863.7 125.8L870.8 126.1L885.8 114.7L878.9 114.5Z"/>
<path fill="#ce8405" d="M863.7 131.6L870.9 131.9L870.8 126.1L863.7 125.8Z"/>
<path fill="#c8a761" d="M871.9 284.1L878.9 284.5L878.9 278.9L871.9 278.5Z"/>
<path fill="#c7af02" d="M871.9 278.5L878.9 278.9L878.9 273.4L871.9 273.0ZM871.9 273.0L878.9 273.4L878.8 267.8L871.8 267.4ZM871.8 267.4L878.8 267.8L878.8 262.2L871.8 261.8ZM871.8 261.8L878.8 262.2L878.8 256.6L871.7 256.3ZM871.7 256.3L878.8 256.6L878.7 251.0L871.7 250.7ZM871.7 250.7L878.7 251.0L878.7 245.4L871.7 245.1ZM871.7 245.1L878.7 245.4L878.7 239.8L871.6 239.5ZM871.6 239.5L878.7 239.8L878.6 234.2L871.6 233.9Z"/>
<path fill="#ce8405" d="M871.6 233.9L878.6 234.2L878.6 228.6L871.5 228.3ZM871.5 228.3L878.6 228.6L878.6 223.0L871.5 222.6ZM871.5 222.6L878.6 223.0L878.5 217.4L871.5 217.0Z"/>
<path fill="#7f661f" d="M871.5 217.0L878.5 217.4L878.5 211.7L871.4 211.4ZM871.4 211.4L878.5 211.7L878.4 206.1L871.4 205.7ZM871.4 205.7L878.4 206.1L878.4 200.4L871.3 200.1ZM871.3 200.1L878.4 200.4L878.4 194.8L871.3 194.5Z"/>
<path fill="#c7af02" d="M871.3 194.5L878.4 194.8L878.3 189.1L871.3 188.8ZM871.3 188.8L878.3 189.1L878.3 183.5L871.2 183.1Z"/>
<path fill="#7f661f" d="M871.2 183.1L878.3 183.5L878.3 177.8L871.2 177.5Z"/>
<path fill="#1f242d" d="M871.2 177.5L878.3 177.8L878.2 172.1L871.1 171.8ZM871.1 171.8L878.2 172.1L878.2 166.4L871.1 166.1Z"/>
<path fill="#7f661f" d="M871.1 166.1L878.2 166.4L878.2 160.7L871.1 160.4Z"/>
<path fill="#c7af02" d="M871.1 160.4L878.2 160.7L878.1 155.0L871.0 154.7ZM871.0 154.7L878.1 155.0L878.1 149.3L871.0 149.0ZM871.0 149.0L878.1 149.3L878.1 143.6L870.9 143.3ZM870.9 143.3L878.1 143.6L878.0 137.9L870.9 137.6ZM870.9 137.6L878.0 137.9L878.0 132.1L870.9 131.9Z"/>
<path fill="#ce8405" d="M870.9 131.9L878.0 132.1L877.9 126.4L870.8 126.1Z"/>
<path fill="#6c5d33" d="M870.8 120.4L877.9 120.7L892.7 109.4L885.8 109.2Z"/>
<path fill="#c8a761" d="M870.8 126.1L877.9 126.4L877.9 120.7L870.8 120.4Z"/>
<path fill="#6e5f34" d="M886.0 284.9L900.3 269.3L900.3 263.8L885.9 279.3Z"/>
<path fill="#c8a761" d="M878.9 284.5L886.0 284.9L885.9 279.3L878.9 278.9Z"/>
<path fill="#c7af02" d="M878.9 278.9L885.9 279.3L885.9 273.8L878.9 273.4ZM878.9 273.4L885.9 273.8L885.9 268.2L878.8 267.8ZM878.8 267.8L885.9 268.2L885.8 262.6L878.8 262.2ZM878.8 262.2L885.8 262.6L885.8 257.0L878.8 256.6ZM878.8 256.6L885.8 257.0L885.8 251.4L878.7 251.0ZM878.7 251.0L885.8 251.4L885.8 245.8L878.7 245.4Z"/>
<path fill="#ce8405" d="M878.7 245.4L885.8 245.8L885.7 240.2L878.7 239.8ZM878.7 239.8L885.7 240.2L885.7 234.6L878.6 234.2ZM878.6 234.2L885.7 234.6L885.7 229.0L878.6 228.6Z"/>
<path fill="#c7af02" d="M878.6 228.6L885.7 229.0L885.6 223.3L878.6 223.0Z"/>
<path fill="#7f661f" d="M878.6 223.0L885.6 223.3L885.6 217.7L878.5 217.4Z"/>
<path fill="#1f242d" d="M878.5 217.4L885.6 217.7L885.6 212.1L878.5 211.7ZM878.5 211.7L885.6 212.1L885.5 206.4L878.4 206.1ZM878.4 206.1L885.5 206.4L885.5 200.8L878.4 200.4Z"/>
<path fill="#7f661f" d="M878.4 200.4L885.5 200.8L885.5 195.1L878.4 194.8Z"/>
<path fill="#c7af02" d="M878.4 194.8L885.5 195.1L885.4 189.5L878.3 189.1ZM878.3 189.1L885.4 189.5L885.4 183.8L878.3 183.5Z"/>
<path fill="#7f661f" d="M878.3 183.5L885.4 183.8L885.4 178.1L878.3 177.8Z"/>
<path fill="#1f242d" d="M878.3 177.8L885.4 178.1L885.3 172.4L878.2 172.1ZM878.2 172.1L885.3 172.4L885.3 166.7L878.2 166.4Z"/>
<path fill="#7f661f" d="M878.2 166.4L885.3 166.7L885.3 161.0L878.2 160.7Z"/>
<path fill="#c7af02" d="M878.2 160.7L885.3 161.0L885.2 155.3L878.1 155.0ZM878.1 155.0L885.2 155.3L885.2 149.6L878.1 149.3ZM878.1 149.3L885.2 149.6L885.2 143.9L878.1 143.6ZM878.1 143.6L885.2 143.9L885.2 138.2L878.0 137.9ZM878.0 137.9L885.2 138.2L885.1 132.4L878.0 132.1ZM878.0 132.1L885.1 132.4L885.1 126.7L877.9 126.4Z"/>
<path fill="#ce8405" d="M877.9 126.4L885.1 126.7L885.1 121.0L877.9 120.7Z"/>
<path fill="#6c5d33" d="M877.9 114.9L885.0 115.2L899.6 104.1L892.7 103.8Z"/>
<path fill="#c8a761" d="M877.9 120.7L885.1 121.0L885.0 115.2L877.9 114.9Z"/>
<path fill="#ce8405" d="M885.9 279.3L893.0 279.7L893.0 274.1L885.9 273.8Z"/>
<path fill="#c7af02" d="M885.9 273.8L893.0 274.1L892.9 268.6L885.9 268.2ZM885.9 268.2L892.9 268.6L892.9 263.0L885.8 262.6ZM885.8 262.6L892.9 263.0L892.9 257.4L885.8 257.0ZM885.8 257.0L892.9 257.4L892.8 251.8L885.8 251.4Z"/>
<path fill="#ce8405" d="M885.8 251.4L892.8 251.8L892.8 246.2L885.8 245.8ZM885.8 245.8L892.8 246.2L892.8 240.6L885.7 240.2Z"/>
<path fill="#c7af02" d="M885.7 240.2L892.8 240.6L892.8 235.0L885.7 234.6ZM885.7 234.6L892.8 235.0L892.7 229.3L885.7 229.0ZM885.7 229.0L892.7 229.3L892.7 223.7L885.6 223.3Z"/>
<path fill="#7f661f" d="M885.6 223.3L892.7 223.7L892.7 218.1L885.6 217.7Z"/>
<path fill="#1f242d" d="M885.6 217.7L892.7 218.1L892.7 212.4L885.6 212.1ZM885.6 212.1L892.7 212.4L892.6 206.8L885.5 206.4ZM885.5 206.4L892.6 206.8L892.6 201.1L885.5 200.8Z"/>
<path fill="#7f661f" d="M885.5 200.8L892.6 201.1L892.6 195.4L885.5 195.1Z"/>
<path fill="#c7af02" d="M885.5 195.1L892.6 195.4L892.5 189.8L885.4 189.5ZM885.4 189.5L892.5 189.8L892.5 184.1L885.4 183.8ZM885.4 183.8L892.5 184.1L892.5 178.4L885.4 178.1Z"/>
<path fill="#7f661f" d="M885.4 178.1L892.5 178.4L892.5 172.7L885.3 172.4ZM885.3 172.4L892.5 172.7L892.4 167.0L885.3 166.7Z"/>
<path fill="#c7af02" d="M885.3 166.7L892.4 167.0L892.4 161.3L885.3 161.0ZM885.3 161.0L892.4 161.3L892.4 155.6L885.2 155.3ZM885.2 155.3L892.4 155.6L892.3 149.9L885.2 149.6ZM885.2 149.6L892.3 149.9L892.3 144.2L885.2 143.9ZM885.2 143.9L892.3 144.2L892.3 138.5L885.2 138.2ZM885.2 138.2L892.3 138.5L892.3 132.7L885.1 132.4ZM885.1 132.4L892.3 132.7L892.2 127.0L885.1 126.7Z"/>
<path fill="#ce8405" d="M885.1 126.7L892.2 127.0L892.2 121.2L885.1 121.0Z"/>
<path fill="#6c5d33" d="M885.0 115.2L892.2 115.5L906.6 104.4L899.6 104.1Z"/>
<path fill="#c8a761" d="M885.1 121.0L892.2 121.2L892.2 115.5L885.0 115.2Z"/>
<path fill="#ce8405" d="M893.0 279.7L900.0 280.1L900.0 274.5L893.0 274.1ZM893.0 274.1L900.0 274.5L900.0 268.9L892.9 268.6ZM892.9 268.6L900.0 268.9L900.0 263.4L892.9 263.0ZM892.9 263.0L900.0 263.4L899.9 257.8L892.9 257.4ZM892.9 257.4L899.9 257.8L899.9 252.2L892.8 251.8ZM892.8 251.8L899.9 252.2L899.9 246.5L892.8 246.2Z"/>
<path fill="#c7af02" d="M892.8 246.2L899.9 246.5L899.9 240.9L892.8 240.6ZM892.8 240.6L899.9 240.9L899.8 235.3L892.8 235.0ZM892.8 235.0L899.8 235.3L899.8 229.7L892.7 229.3Z"/>
<path fill="#ce8405" d="M892.7 229.3L899.8 229.7L899.8 224.0L892.7 223.7Z"/>
<path fill="#c8191e" d="M892.7 223.7L899.8 224.0L899.8 218.4L892.7 218.1Z"/>
<path fill="#1f242d" d="M892.7 218.1L899.8 218.4L899.7 212.8L892.7 212.4ZM892.7 212.4L899.7 212.8L899.7 207.1L892.6 206.8Z"/>
<path fill="#7f661f" d="M892.6 206.8L899.7 207.1L899.7 201.4L892.6 201.1Z"/>
<path fill="#c7af02" d="M892.6 201.1L899.7 201.4L899.7 195.8L892.6 195.4ZM892.6 195.4L899.7 195.8L899.7 190.1L892.5 189.8ZM892.5 189.8L899.7 190.1L899.6 184.4L892.5 184.1ZM892.5 184.1L899.6 184.4L899.6 178.7L892.5 178.4ZM892.5 178.4L899.6 178.7L899.6 173.0L892.5 172.7ZM892.5 172.7L899.6 173.0L899.6 167.4L892.4 167.0ZM892.4 167.0L899.6 167.4L899.5 161.6L892.4 161.3ZM892.4 161.3L899.5 161.6L899.5 155.9L892.4 155.6ZM892.4 155.6L899.5 155.9L899.5 150.2L892.3 149.9ZM892.3 149.9L899.5 150.2L899.5 144.5L892.3 144.2ZM892.3 144.2L899.5 144.5L899.4 138.8L892.3 138.5ZM892.3 138.5L899.4 138.8L899.4 133.0L892.3 132.7ZM892.3 132.7L899.4 133.0L899.4 127.3L892.2 127.0Z"/>
<path fill="#ce8405" d="M892.2 127.0L899.4 127.3L899.4 121.5L892.2 121.2Z"/>
<path fill="#6c5d33" d="M892.2 115.5L899.3 115.8L913.6 104.6L906.6 104.4Z"/>
<path fill="#c8a761" d="M892.2 121.2L899.4 121.5L899.3 115.8L892.2 115.5Z"/>
<path fill="#ce8405" d="M900.0 280.1L907.1 280.5L907.1 274.9L900.0 274.5ZM900.0 274.5L907.1 274.9L907.1 269.3L900.0 268.9ZM900.0 268.9L907.1 269.3L907.0 263.7L900.0 263.4ZM900.0 263.4L907.0 263.7L907.0 258.1L899.9 257.8ZM899.9 257.8L907.0 258.1L907.0 252.5L899.9 252.2Z"/>
<path fill="#c7af02" d="M899.9 252.2L907.0 252.5L907.0 246.9L899.9 246.5ZM899.9 246.5L907.0 246.9L907.0 241.3L899.9 240.9ZM899.9 240.9L907.0 241.3L906.9 235.7L899.8 235.3ZM899.8 235.3L906.9 235.7L906.9 230.0L899.8 229.7Z"/>
<path fill="#ce8405" d="M899.8 229.7L906.9 230.0L906.9 224.4L899.8 224.0Z"/>
<path fill="#c8191e" d="M899.8 224.0L906.9 224.4L906.9 218.8L899.8 218.4Z"/>
<path fill="#7f661f" d="M899.8 218.4L906.9 218.8L906.9 213.1L899.7 212.8Z"/>
<path fill="#1f242d" d="M899.7 212.8L906.9 213.1L906.8 207.4L899.7 207.1Z"/>
<path fill="#7f661f" d="M899.7 207.1L906.8 207.4L906.8 201.8L899.7 201.4Z"/>
<path fill="#c7af02" d="M899.7 201.4L906.8 201.8L906.8 196.1L899.7 195.8ZM899.7 195.8L906.8 196.1L906.8 190.4L899.7 190.1ZM899.7 190.1L906.8 190.4L906.8 184.8L899.6 184.4ZM899.6 184.4L906.8 184.8L906.7 179.1L899.6 178.7ZM899.6 178.7L906.7 179.1L906.7 173.4L899.6 173.0ZM899.6 173.0L906.7 173.4L906.7 167.7L899.6 167.4ZM899.6 167.4L906.7 167.7L906.7 162.0L899.5 161.6ZM899.5 161.6L906.7 162.0L906.7 156.2L899.5 155.9ZM899.5 155.9L906.7 156.2L906.6 150.5L899.5 150.2ZM899.5 150.2L906.6 150.5L906.6 144.8L899.5 144.5ZM899.5 144.5L906.6 144.8L906.6 139.0L899.4 138.8ZM899.4 138.8L906.6 139.0L906.6 133.3L899.4 133.0ZM899.4 133.0L906.6 133.3L906.6 127.6L899.4 127.3Z"/>
<path fill="#ce8405" d="M899.4 127.3L906.6 127.6L906.5 121.8L899.4 121.5Z"/>
<path fill="#6c5d33" d="M899.3 115.8L906.5 116.0L920.5 104.9L913.6 104.6Z"/>
<path fill="#c8a761" d="M899.4 121.5L906.5 121.8L906.5 116.0L899.3 115.8Z"/>
<path fill="#ce8405" d="M907.1 280.5L914.2 280.9L914.1 275.3L907.1 274.9Z"/>
<path fill="#c7af02" d="M907.1 274.9L914.1 275.3L914.1 269.7L907.1 269.3ZM907.1 269.3L914.1 269.7L914.1 264.1L907.0 263.7ZM907.0 263.7L914.1 264.1L914.1 258.5L907.0 258.1ZM907.0 258.1L914.1 258.5L914.1 252.9L907.0 252.5ZM907.0 252.5L914.1 252.9L914.1 247.3L907.0 246.9ZM907.0 246.9L914.1 247.3L914.1 241.7L907.0 241.3ZM907.0 241.3L914.1 241.7L914.0 236.0L906.9 235.7ZM906.9 235.7L914.0 236.0L914.0 230.4L906.9 230.0Z"/>
<path fill="#c8191e" d="M906.9 230.0L914.0 230.4L914.0 224.8L906.9 224.4ZM906.9 224.4L914.0 224.8L914.0 219.1L906.9 218.8Z"/>
<path fill="#1f242d" d="M906.9 218.8L914.0 219.1L914.0 213.5L906.9 213.1ZM906.9 213.1L914.0 213.5L914.0 207.8L906.8 207.4Z"/>
<path fill="#7f661f" d="M906.8 207.4L914.0 207.8L913.9 202.1L906.8 201.8Z"/>
<path fill="#c7af02" d="M906.8 201.8L913.9 202.1L913.9 196.4L906.8 196.1ZM906.8 196.1L913.9 196.4L913.9 190.8L906.8 190.4ZM906.8 190.4L913.9 190.8L913.9 185.1L906.8 184.8ZM906.8 184.8L913.9 185.1L913.9 179.4L906.7 179.1ZM906.7 179.1L913.9 179.4L913.9 173.7L906.7 173.4ZM906.7 173.4L913.9 173.7L913.9 168.0L906.7 167.7ZM906.7 167.7L913.9 168.0L913.8 162.3L906.7 162.0ZM906.7 162.0L913.8 162.3L913.8 156.5L906.7 156.2ZM906.7 156.2L913.8 156.5L913.8 150.8L906.6 150.5ZM906.6 150.5L913.8 150.8L913.8 145.1L906.6 144.8ZM906.6 144.8L913.8 145.1L913.8 139.3L906.6 139.0ZM906.6 139.0L913.8 139.3L913.8 133.6L906.6 133.3ZM906.6 133.3L913.8 133.6L913.7 127.8L906.6 127.6Z"/>
<path fill="#ce8405" d="M906.6 127.6L913.7 127.8L913.7 122.1L906.5 121.8Z"/>
<path fill="#6c5d33" d="M906.5 116.0L913.7 116.3L927.5 105.2L920.5 104.9Z"/>
<path fill="#c8a761" d="M906.5 121.8L913.7 122.1L913.7 116.3L906.5 116.0Z"/>
<path fill="#ce8405" d="M914.2 280.9L921.2 281.3L921.2 275.7L914.1 275.3Z"/>
<path fill="#c7af02" d="M914.1 275.3L921.2 275.7L921.2 270.1L914.1 269.7ZM914.1 269.7L921.2 270.1L921.2 264.5L914.1 264.1ZM914.1 264.1L921.2 264.5L921.2 258.9L914.1 258.5ZM914.1 258.5L921.2 258.9L921.2 253.3L914.1 252.9ZM914.1 252.9L921.2 253.3L921.2 247.6L914.1 247.3ZM914.1 247.3L921.2 247.6L921.2 242.0L914.1 241.7ZM914.1 241.7L921.2 242.0L921.1 236.4L914.0 236.0ZM914.0 236.0L921.1 236.4L921.1 230.8L914.0 230.4Z"/>
<path fill="#c8191e" d="M914.0 230.4L921.1 230.8L921.1 225.1L914.0 224.8ZM914.0 224.8L921.1 225.1L921.1 219.5L914.0 219.1Z"/>
<path fill="#7f661f" d="M914.0 219.1L921.1 219.5L921.1 213.8L914.0 213.5Z"/>
<path fill="#1f242d" d="M914.0 213.5L921.1 213.8L921.1 208.1L914.0 207.8Z"/>
<path fill="#7f661f" d="M914.0 207.8L921.1 208.1L921.1 202.5L913.9 202.1Z"/>
<path fill="#c7af02" d="M913.9 202.1L921.1 202.5L921.1 196.8L913.9 196.4ZM913.9 196.4L921.1 196.8L921.1 191.1L913.9 190.8ZM913.9 190.8L921.1 191.1L921.0 185.4L913.9 185.1ZM913.9 185.1L921.0 185.4L921.0 179.7L913.9 179.4ZM913.9 179.4L921.0 179.7L921.0 174.0L913.9 173.7ZM913.9 173.7L921.0 174.0L921.0 168.3L913.9 168.0ZM913.9 168.0L921.0 168.3L921.0 162.6L913.8 162.3ZM913.8 162.3L921.0 162.6L921.0 156.9L913.8 156.5ZM913.8 156.5L921.0 156.9L921.0 151.1L913.8 150.8ZM913.8 150.8L921.0 151.1L921.0 145.4L913.8 145.1ZM913.8 145.1L921.0 145.4L921.0 139.6L913.8 139.3ZM913.8 139.3L921.0 139.6L920.9 133.9L913.8 133.6ZM913.8 133.6L920.9 133.9L920.9 128.1L913.7 127.8Z"/>
<path fill="#ce8405" d="M913.7 127.8L920.9 128.1L920.9 122.4L913.7 122.1Z"/>
<path fill="#6c5d33" d="M913.7 116.3L920.9 116.6L934.5 105.4L927.5 105.2Z"/>
<path fill="#c8a761" d="M913.7 122.1L920.9 122.4L920.9 116.6L913.7 116.3Z"/>
<path fill="#ce8405" d="M921.2 281.3L928.3 281.7L928.3 276.1L921.2 275.7ZM921.2 275.7L928.3 276.1L928.3 270.5L921.2 270.1ZM921.2 270.1L928.3 270.5L928.3 264.9L921.2 264.5ZM921.2 264.5L928.3 264.9L928.3 259.3L921.2 258.9ZM921.2 258.9L928.3 259.3L928.3 253.6L921.2 253.3Z"/>
<path fill="#c7af02" d="M921.2 253.3L928.3 253.6L928.3 248.0L921.2 247.6ZM921.2 247.6L928.3 248.0L928.3 242.4L921.2 242.0ZM921.2 242.0L928.3 242.4L928.3 236.8L921.1 236.4ZM921.1 236.4L928.3 236.8L928.3 231.1L921.1 230.8Z"/>
<path fill="#ce8405" d="M921.1 230.8L928.3 231.1L928.3 225.5L921.1 225.1Z"/>
<path fill="#c8191e" d="M921.1 225.1L928.3 225.5L928.2 219.8L921.1 219.5Z"/>
<path fill="#7f661f" d="M921.1 219.5L928.2 219.8L928.2 214.1L921.1 213.8Z"/>
<path fill="#1f242d" d="M921.1 213.8L928.2 214.1L928.2 208.5L921.1 208.1Z"/>
<path fill="#7f661f" d="M921.1 208.1L928.2 208.5L928.2 202.8L921.1 202.5Z"/>
<path fill="#c7af02" d="M921.1 202.5L928.2 202.8L928.2 197.1L921.1 196.8ZM921.1 196.8L928.2 197.1L928.2 191.4L921.1 191.1ZM921.1 191.1L928.2 191.4L928.2 185.7L921.0 185.4ZM921.0 185.4L928.2 185.7L928.2 180.0L921.0 179.7ZM921.0 179.7L928.2 180.0L928.2 174.3L921.0 174.0ZM921.0 174.0L928.2 174.3L928.2 168.6L921.0 168.3ZM921.0 168.3L928.2 168.6L928.2 162.9L921.0 162.6ZM921.0 162.6L928.2 162.9L928.2 157.2L921.0 156.9ZM921.0 156.9L928.2 157.2L928.2 151.4L921.0 151.1ZM921.0 151.1L928.2 151.4L928.2 145.7L921.0 145.4ZM921.0 145.4L928.2 145.7L928.1 139.9L921.0 139.6ZM921.0 139.6L928.1 139.9L928.1 134.2L920.9 133.9ZM920.9 133.9L928.1 134.2L928.1 128.4L920.9 128.1Z"/>
<path fill="#ce8405" d="M920.9 128.1L928.1 128.4L928.1 122.7L920.9 122.4Z"/>
<path fill="#6c5d33" d="M920.9 116.6L928.1 116.9L941.6 105.7L934.5 105.4Z"/>
<path fill="#c8a761" d="M920.9 122.4L928.1 122.7L928.1 116.9L920.9 116.6Z"/>
<path fill="#ce8405" d="M928.3 281.7L935.4 282.1L935.4 276.5L928.3 276.1ZM928.3 276.1L935.4 276.5L935.4 270.9L928.3 270.5ZM928.3 270.5L935.4 270.9L935.4 265.2L928.3 264.9ZM928.3 264.9L935.4 265.2L935.4 259.6L928.3 259.3ZM928.3 259.3L935.4 259.6L935.4 254.0L928.3 253.6ZM928.3 253.6L935.4 254.0L935.4 248.4L928.3 248.0Z"/>
<path fill="#c7af02" d="M928.3 248.0L935.4 248.4L935.4 242.8L928.3 242.4ZM928.3 242.4L935.4 242.8L935.4 237.1L928.3 236.8ZM928.3 236.8L935.4 237.1L935.4 231.5L928.3 231.1ZM928.3 231.1L935.4 231.5L935.4 225.8L928.3 225.5Z"/>
<path fill="#7f661f" d="M928.3 225.5L935.4 225.8L935.4 220.2L928.2 219.8Z"/>
<path fill="#1f242d" d="M928.2 219.8L935.4 220.2L935.4 214.5L928.2 214.1ZM928.2 214.1L935.4 214.5L935.4 208.8L928.2 208.5ZM928.2 208.5L935.4 208.8L935.4 203.1L928.2 202.8Z"/>
<path fill="#7f661f" d="M928.2 202.8L935.4 203.1L935.4 197.5L928.2 197.1Z"/>
<path fill="#c7af02" d="M928.2 197.1L935.4 197.5L935.4 191.8L928.2 191.4ZM928.2 191.4L935.4 191.8L935.4 186.1L928.2 185.7Z"/>
<path fill="#7f661f" d="M928.2 185.7L935.4 186.1L935.4 180.4L928.2 180.0Z"/>
<path fill="#1f242d" d="M928.2 180.0L935.4 180.4L935.4 174.6L928.2 174.3ZM928.2 174.3L935.4 174.6L935.4 168.9L928.2 168.6Z"/>
<path fill="#7f661f" d="M928.2 168.6L935.4 168.9L935.4 163.2L928.2 162.9Z"/>
<path fill="#c7af02" d="M928.2 162.9L935.4 163.2L935.4 157.5L928.2 157.2ZM928.2 157.2L935.4 157.5L935.4 151.7L928.2 151.4ZM928.2 151.4L935.4 151.7L935.4 146.0L928.2 145.7ZM928.2 145.7L935.4 146.0L935.3 140.2L928.1 139.9ZM928.1 139.9L935.3 140.2L935.3 134.5L928.1 134.2ZM928.1 134.2L935.3 134.5L935.3 128.7L928.1 128.4Z"/>
<path fill="#ce8405" d="M928.1 128.4L935.3 128.7L935.3 122.9L928.1 122.7Z"/>
<path fill="#6e5f34" d="M935.3 122.9L948.6 111.6L948.6 106.0L935.3 117.2Z"/>
<path fill="#6c5d33" d="M928.1 116.9L935.3 117.2L948.6 106.0L941.6 105.7Z"/>
<path fill="#c8a761" d="M928.1 122.7L935.3 122.9L935.3 117.2L928.1 116.9ZM935.4 287.6L942.5 288.0L942.5 282.4L935.4 282.1Z"/>
<path fill="#ce8405" d="M935.4 282.1L942.5 282.4L942.5 276.8L935.4 276.5Z"/>
<path fill="#c7af02" d="M935.4 276.5L942.5 276.8L942.5 271.2L935.4 270.9ZM935.4 270.9L942.5 271.2L942.5 265.6L935.4 265.2ZM935.4 265.2L942.5 265.6L942.5 260.0L935.4 259.6ZM935.4 259.6L942.5 260.0L942.5 254.4L935.4 254.0Z"/>
<path fill="#ce8405" d="M935.4 254.0L942.5 254.4L942.5 248.8L935.4 248.4ZM935.4 248.4L942.5 248.8L942.5 243.1L935.4 242.8Z"/>
<path fill="#c7af02" d="M935.4 242.8L942.5 243.1L942.5 237.5L935.4 237.1ZM935.4 237.1L942.5 237.5L942.5 231.8L935.4 231.5ZM935.4 231.5L942.5 231.8L942.5 226.2L935.4 225.8ZM935.4 225.8L942.5 226.2L942.5 220.5L935.4 220.2Z"/>
<path fill="#7f661f" d="M935.4 220.2L942.5 220.5L942.5 214.8L935.4 214.5ZM935.4 214.5L942.5 214.8L942.5 209.2L935.4 208.8Z"/>
<path fill="#1f242d" d="M935.4 208.8L942.5 209.2L942.5 203.5L935.4 203.1Z"/>
<path fill="#7f661f" d="M935.4 203.1L942.5 203.5L942.6 197.8L935.4 197.5Z"/>
<path fill="#c7af02" d="M935.4 197.5L942.6 197.8L942.6 192.1L935.4 191.8ZM935.4 191.8L942.6 192.1L942.6 186.4L935.4 186.1Z"/>
<path fill="#7f661f" d="M935.4 186.1L942.6 186.4L942.6 180.7L935.4 180.4Z"/>
<path fill="#1f242d" d="M935.4 180.4L942.6 180.7L942.6 175.0L935.4 174.6ZM935.4 174.6L942.6 175.0L942.6 169.2L935.4 168.9Z"/>
<path fill="#7f661f" d="M935.4 168.9L942.6 169.2L942.6 163.5L935.4 163.2Z"/>
<path fill="#c7af02" d="M935.4 163.2L942.6 163.5L942.6 157.8L935.4 157.5ZM935.4 157.5L942.6 157.8L942.6 152.0L935.4 151.7ZM935.4 151.7L942.6 152.0L942.6 146.3L935.4 146.0ZM935.4 146.0L942.6 146.3L942.6 140.5L935.3 140.2ZM935.3 140.2L942.6 140.5L942.6 134.8L935.3 134.5Z"/>
<path fill="#ce8405" d="M935.3 134.5L942.6 134.8L942.6 129.0L935.3 128.7Z"/>
<path fill="#764800" d="M935.3 122.9L942.6 123.2L955.6 111.8L948.6 111.6Z"/>
<path fill="#ce8405" d="M935.3 128.7L942.6 129.0L942.6 123.2L935.3 122.9Z"/>
<path fill="#c8a761" d="M942.5 288.0L949.6 288.4L949.7 282.8L942.5 282.4Z"/>
<path fill="#c7af02" d="M942.5 282.4L949.7 282.8L949.7 277.2L942.5 276.8ZM942.5 276.8L949.7 277.2L949.7 271.6L942.5 271.2ZM942.5 271.2L949.7 271.6L949.7 266.0L942.5 265.6ZM942.5 265.6L949.7 266.0L949.7 260.4L942.5 260.0ZM942.5 260.0L949.7 260.4L949.7 254.8L942.5 254.4ZM942.5 254.4L949.7 254.8L949.7 249.1L942.5 248.8Z"/>
<path fill="#ce8405" d="M942.5 248.8L949.7 249.1L949.7 243.5L942.5 243.1ZM942.5 243.1L949.7 243.5L949.7 237.8L942.5 237.5ZM942.5 237.5L949.7 237.8L949.7 232.2L942.5 231.8Z"/>
<path fill="#c7af02" d="M942.5 231.8L949.7 232.2L949.7 226.5L942.5 226.2ZM942.5 226.2L949.7 226.5L949.7 220.9L942.5 220.5ZM942.5 220.5L949.7 220.9L949.7 215.2L942.5 214.8ZM942.5 214.8L949.7 215.2L949.7 209.5L942.5 209.2ZM942.5 209.2L949.7 209.5L949.7 203.8L942.5 203.5ZM942.5 203.5L949.7 203.8L949.7 198.1L942.6 197.8ZM942.6 197.8L949.7 198.1L949.7 192.4L942.6 192.1ZM942.6 192.1L949.7 192.4L949.7 186.7L942.6 186.4Z"/>
<path fill="#1f242d" d="M942.6 186.4L949.7 186.7L949.7 181.0L942.6 180.7ZM942.6 180.7L949.7 181.0L949.8 175.3L942.6 175.0ZM942.6 175.0L949.8 175.3L949.8 169.6L942.6 169.2Z"/>
<path fill="#7f661f" d="M942.6 169.2L949.8 169.6L949.8 163.8L942.6 163.5Z"/>
<path fill="#c7af02" d="M942.6 163.5L949.8 163.8L949.8 158.1L942.6 157.8ZM942.6 157.8L949.8 158.1L949.8 152.3L942.6 152.0ZM942.6 152.0L949.8 152.3L949.8 146.6L942.6 146.3ZM942.6 146.3L949.8 146.6L949.8 140.8L942.6 140.5ZM942.6 140.5L949.8 140.8L949.8 135.1L942.6 134.8Z"/>
<path fill="#ce8405" d="M942.6 134.8L949.8 135.1L949.8 129.3L942.6 129.0Z"/>
<path fill="#6c5d33" d="M942.6 123.2L949.8 123.5L962.6 112.1L955.6 111.8Z"/>
<path fill="#c8a761" d="M942.6 129.0L949.8 129.3L949.8 123.5L942.6 123.2ZM949.6 288.4L956.8 288.8L956.8 283.2L949.7 282.8Z"/>
<path fill="#c7af02" d="M949.7 282.8L956.8 283.2L956.8 277.6L949.7 277.2ZM949.7 277.2L956.8 277.6L956.8 272.0L949.7 271.6ZM949.7 271.6L956.8 272.0L956.8 266.4L949.7 266.0ZM949.7 266.0L956.8 266.4L956.8 260.8L949.7 260.4ZM949.7 260.4L956.8 260.8L956.8 255.1L949.7 254.8ZM949.7 254.8L956.8 255.1L956.8 249.5L949.7 249.1ZM949.7 249.1L956.8 249.5L956.8 243.9L949.7 243.5ZM949.7 243.5L956.8 243.9L956.9 238.2L949.7 237.8Z"/>
<path fill="#ce8405" d="M949.7 237.8L956.9 238.2L956.9 232.5L949.7 232.2ZM949.7 232.2L956.9 232.5L956.9 226.9L949.7 226.5ZM949.7 226.5L956.9 226.9L956.9 221.2L949.7 220.9Z"/>
<path fill="#c7af02" d="M949.7 220.9L956.9 221.2L956.9 215.5L949.7 215.2ZM949.7 215.2L956.9 215.5L956.9 209.8L949.7 209.5ZM949.7 209.5L956.9 209.8L956.9 204.2L949.7 203.8ZM949.7 203.8L956.9 204.2L956.9 198.5L949.7 198.1ZM949.7 198.1L956.9 198.5L956.9 192.8L949.7 192.4ZM949.7 192.4L956.9 192.8L956.9 187.0L949.7 186.7Z"/>
<path fill="#7f661f" d="M949.7 186.7L956.9 187.0L957.0 181.3L949.7 181.0ZM949.7 181.0L957.0 181.3L957.0 175.6L949.8 175.3ZM949.8 175.3L957.0 175.6L957.0 169.9L949.8 169.6Z"/>
<path fill="#c7af02" d="M949.8 169.6L957.0 169.9L957.0 164.1L949.8 163.8ZM949.8 163.8L957.0 164.1L957.0 158.4L949.8 158.1ZM949.8 158.1L957.0 158.4L957.0 152.6L949.8 152.3ZM949.8 152.3L957.0 152.6L957.0 146.9L949.8 146.6ZM949.8 146.6L957.0 146.9L957.0 141.1L949.8 140.8Z"/>
<path fill="#ce8405" d="M949.8 140.8L957.0 141.1L957.0 135.4L949.8 135.1ZM949.8 135.1L957.0 135.4L957.0 129.6L949.8 129.3Z"/>
<path fill="#6e5f34" d="M957.0 129.6L969.7 118.0L969.7 112.4L957.0 123.8Z"/>
<path fill="#6c5d33" d="M949.8 123.5L957.0 123.8L969.7 112.4L962.6 112.1Z"/>
<path fill="#c8a761" d="M949.8 129.3L957.0 129.6L957.0 123.8L949.8 123.5ZM956.8 288.8L963.9 289.2L963.9 283.6L956.8 283.2Z"/>
<path fill="#c7af02" d="M956.8 283.2L963.9 283.6L963.9 278.0L956.8 277.6ZM956.8 277.6L963.9 278.0L963.9 272.4L956.8 272.0ZM956.8 272.0L963.9 272.4L964.0 266.8L956.8 266.4ZM956.8 266.4L964.0 266.8L964.0 261.1L956.8 260.8ZM956.8 260.8L964.0 261.1L964.0 255.5L956.8 255.1ZM956.8 255.1L964.0 255.5L964.0 249.9L956.8 249.5Z"/>
<path fill="#ce8405" d="M956.8 249.5L964.0 249.9L964.0 244.2L956.8 243.9Z"/>
<path fill="#c7af02" d="M956.8 243.9L964.0 244.2L964.0 238.6L956.9 238.2ZM956.9 238.2L964.0 238.6L964.0 232.9L956.9 232.5ZM956.9 232.5L964.0 232.9L964.1 227.2L956.9 226.9Z"/>
<path fill="#ce8405" d="M956.9 226.9L964.1 227.2L964.1 221.6L956.9 221.2Z"/>
<path fill="#c7af02" d="M956.9 221.2L964.1 221.6L964.1 215.9L956.9 215.5ZM956.9 215.5L964.1 215.9L964.1 210.2L956.9 209.8ZM956.9 209.8L964.1 210.2L964.1 204.5L956.9 204.2ZM956.9 204.2L964.1 204.5L964.1 198.8L956.9 198.5ZM956.9 198.5L964.1 198.8L964.1 193.1L956.9 192.8ZM956.9 192.8L964.1 193.1L964.2 187.4L956.9 187.0ZM956.9 187.0L964.2 187.4L964.2 181.7L957.0 181.3ZM957.0 181.3L964.2 181.7L964.2 175.9L957.0 175.6ZM957.0 175.6L964.2 175.9L964.2 170.2L957.0 169.9ZM957.0 169.9L964.2 170.2L964.2 164.5L957.0 164.1ZM957.0 164.1L964.2 164.5L964.2 158.7L957.0 158.4ZM957.0 158.4L964.2 158.7L964.2 153.0L957.0 152.6ZM957.0 152.6L964.2 153.0L964.2 147.2L957.0 146.9ZM957.0 146.9L964.2 147.2L964.3 141.4L957.0 141.1Z"/>
<path fill="#ce8405" d="M957.0 141.1L964.3 141.4L964.3 135.6L957.0 135.4Z"/>
<path fill="#6c5d33" d="M957.0 129.6L964.3 129.9L976.7 118.3L969.7 118.0Z"/>
<path fill="#c8a761" d="M957.0 135.4L964.3 135.6L964.3 129.9L957.0 129.6ZM963.9 289.2L971.1 289.6L971.1 284.0L963.9 283.6Z"/>
<path fill="#c7af02" d="M963.9 283.6L971.1 284.0L971.1 278.4L963.9 278.0ZM963.9 278.0L971.1 278.4L971.1 272.8L963.9 272.4ZM963.9 272.4L971.1 272.8L971.1 267.2L964.0 266.8ZM964.0 266.8L971.1 267.2L971.1 261.5L964.0 261.1ZM964.0 261.1L971.1 261.5L971.2 255.9L964.0 255.5ZM964.0 255.5L971.2 255.9L971.2 250.2L964.0 249.9Z"/>
<path fill="#ce8405" d="M964.0 249.9L971.2 250.2L971.2 244.6L964.0 244.2ZM964.0 244.2L971.2 244.6L971.2 238.9L964.0 238.6ZM964.0 238.6L971.2 238.9L971.2 233.3L964.0 232.9ZM964.0 232.9L971.2 233.3L971.2 227.6L964.1 227.2ZM964.1 227.2L971.2 227.6L971.3 221.9L964.1 221.6Z"/>
<path fill="#c7af02" d="M964.1 221.6L971.3 221.9L971.3 216.2L964.1 215.9ZM964.1 215.9L971.3 216.2L971.3 210.5L964.1 210.2ZM964.1 210.2L971.3 210.5L971.3 204.8L964.1 204.5ZM964.1 204.5L971.3 204.8L971.3 199.1L964.1 198.8ZM964.1 198.8L971.3 199.1L971.4 193.4L964.1 193.1ZM964.1 193.1L971.4 193.4L971.4 187.7L964.2 187.4ZM964.2 187.4L971.4 187.7L971.4 182.0L964.2 181.7ZM964.2 181.7L971.4 182.0L971.4 176.2L964.2 175.9ZM964.2 175.9L971.4 176.2L971.4 170.5L964.2 170.2ZM964.2 170.2L971.4 170.5L971.4 164.8L964.2 164.5ZM964.2 164.5L971.4 164.8L971.5 159.0L964.2 158.7ZM964.2 158.7L971.5 159.0L971.5 153.3L964.2 153.0ZM964.2 153.0L971.5 153.3L971.5 147.5L964.2 147.2Z"/>
<path fill="#ce8405" d="M964.2 147.2L971.5 147.5L971.5 141.7L964.3 141.4ZM964.3 141.4L971.5 141.7L971.5 135.9L964.3 135.6Z"/>
<path fill="#6e5f34" d="M971.5 135.9L983.8 124.2L983.8 118.6L971.5 130.2Z"/>
<path fill="#6c5d33" d="M964.3 129.9L971.5 130.2L983.8 118.6L976.7 118.3Z"/>
<path fill="#c8a761" d="M964.3 135.6L971.5 135.9L971.5 130.2L964.3 129.9ZM971.1 289.6L978.2 290.0L978.2 284.4L971.1 284.0Z"/>
<path fill="#c7af02" d="M971.1 284.0L978.2 284.4L978.3 278.8L971.1 278.4ZM971.1 278.4L978.3 278.8L978.3 273.2L971.1 272.8ZM971.1 272.8L978.3 273.2L978.3 267.5L971.1 267.2ZM971.1 267.2L978.3 267.5L978.3 261.9L971.1 261.5ZM971.1 261.5L978.3 261.9L978.3 256.3L971.2 255.9Z"/>
<path fill="#ce8405" d="M971.2 255.9L978.3 256.3L978.4 250.6L971.2 250.2Z"/>
<path fill="#c7af02" d="M971.2 250.2L978.4 250.6L978.4 245.0L971.2 244.6ZM971.2 244.6L978.4 245.0L978.4 239.3L971.2 238.9Z"/>
<path fill="#ce8405" d="M971.2 238.9L978.4 239.3L978.4 233.6L971.2 233.3ZM971.2 233.3L978.4 233.6L978.4 227.9L971.2 227.6ZM971.2 227.6L978.4 227.9L978.5 222.3L971.3 221.9Z"/>
<path fill="#c7af02" d="M971.3 221.9L978.5 222.3L978.5 216.6L971.3 216.2ZM971.3 216.2L978.5 216.6L978.5 210.9L971.3 210.5ZM971.3 210.5L978.5 210.9L978.5 205.2L971.3 204.8ZM971.3 204.8L978.5 205.2L978.6 199.5L971.3 199.1ZM971.3 199.1L978.6 199.5L978.6 193.8L971.4 193.4Z"/>
<path fill="#ce8405" d="M971.4 193.4L978.6 193.8L978.6 188.0L971.4 187.7ZM971.4 187.7L978.6 188.0L978.6 182.3L971.4 182.0Z"/>
<path fill="#c7af02" d="M971.4 182.0L978.6 182.3L978.6 176.6L971.4 176.2ZM971.4 176.2L978.6 176.6L978.7 170.8L971.4 170.5ZM971.4 170.5L978.7 170.8L978.7 165.1L971.4 164.8ZM971.4 164.8L978.7 165.1L978.7 159.3L971.5 159.0ZM971.5 159.0L978.7 159.3L978.7 153.6L971.5 153.3ZM971.5 153.3L978.7 153.6L978.8 147.8L971.5 147.5Z"/>
<path fill="#ce8405" d="M971.5 147.5L978.8 147.8L978.8 142.0L971.5 141.7Z"/>
<path fill="#6e5f34" d="M978.8 142.0L990.8 130.1L990.8 124.5L978.8 136.2Z"/>
<path fill="#6c5d33" d="M971.5 135.9L978.8 136.2L990.8 124.5L983.8 124.2Z"/>
<path fill="#c8a761" d="M971.5 141.7L978.8 142.0L978.8 136.2L971.5 135.9Z"/>
<path fill="#6e5f34" d="M985.4 290.4L997.1 274.5L997.1 269.0L985.4 284.8Z"/>
<path fill="#c8a761" d="M978.2 290.0L985.4 290.4L985.4 284.8L978.2 284.4Z"/>
<path fill="#c7af02" d="M978.2 284.4L985.4 284.8L985.4 279.2L978.3 278.8ZM978.3 278.8L985.4 279.2L985.4 273.6L978.3 273.2ZM978.3 273.2L985.4 273.6L985.5 267.9L978.3 267.5ZM978.3 267.5L985.5 267.9L985.5 262.3L978.3 261.9ZM978.3 261.9L985.5 262.3L985.5 256.6L978.3 256.3ZM978.3 256.3L985.5 256.6L985.6 251.0L978.4 250.6Z"/>
<path fill="#ce8405" d="M978.4 250.6L985.6 251.0L985.6 245.3L978.4 245.0Z"/>
<path fill="#c7af02" d="M978.4 245.0L985.6 245.3L985.6 239.7L978.4 239.3ZM978.4 239.3L985.6 239.7L985.6 234.0L978.4 233.6Z"/>
<path fill="#ce8405" d="M978.4 233.6L985.6 234.0L985.7 228.3L978.4 227.9ZM978.4 227.9L985.7 228.3L985.7 222.6L978.5 222.3Z"/>
<path fill="#c7af02" d="M978.5 222.3L985.7 222.6L985.7 216.9L978.5 216.6ZM978.5 216.6L985.7 216.9L985.7 211.2L978.5 210.9ZM978.5 210.9L985.7 211.2L985.8 205.5L978.5 205.2ZM978.5 205.2L985.8 205.5L985.8 199.8L978.6 199.5ZM978.6 199.5L985.8 199.8L985.8 194.1L978.6 193.8ZM978.6 193.8L985.8 194.1L985.8 188.4L978.6 188.0ZM978.6 188.0L985.8 188.4L985.9 182.6L978.6 182.3ZM978.6 182.3L985.9 182.6L985.9 176.9L978.6 176.6ZM978.6 176.6L985.9 176.9L985.9 171.1L978.7 170.8ZM978.7 170.8L985.9 171.1L985.9 165.4L978.7 165.1ZM978.7 165.1L985.9 165.4L986.0 159.6L978.7 159.3ZM978.7 159.3L986.0 159.6L986.0 153.9L978.7 153.6Z"/>
<path fill="#ce8405" d="M978.7 153.6L986.0 153.9L986.0 148.1L978.8 147.8Z"/>
<path fill="#6e5f34" d="M986.0 148.1L997.9 136.0L997.9 130.4L986.1 142.3Z"/>
<path fill="#6c5d33" d="M978.8 142.0L986.1 142.3L997.9 130.4L990.8 130.1Z"/>
<path fill="#c8a761" d="M978.8 147.8L986.0 148.1L986.1 142.3L978.8 142.0Z"/>
<path fill="#ce8405" d="M985.4 284.8L992.6 285.2L992.6 279.6L985.4 279.2Z"/>
<path fill="#c7af02" d="M985.4 279.2L992.6 279.6L992.6 273.9L985.4 273.6ZM985.4 273.6L992.6 273.9L992.7 268.3L985.5 267.9ZM985.5 267.9L992.7 268.3L992.7 262.7L985.5 262.3Z"/>
<path fill="#ce8405" d="M985.5 262.3L992.7 262.7L992.7 257.0L985.5 256.6Z"/>
<path fill="#c7af02" d="M985.5 256.6L992.7 257.0L992.8 251.4L985.6 251.0ZM985.6 251.0L992.8 251.4L992.8 245.7L985.6 245.3Z"/>
<path fill="#ce8405" d="M985.6 245.3L992.8 245.7L992.8 240.0L985.6 239.7Z"/>
<path fill="#c7af02" d="M985.6 239.7L992.8 240.0L992.8 234.3L985.6 234.0ZM985.6 234.0L992.8 234.3L992.9 228.7L985.7 228.3Z"/>
<path fill="#ce8405" d="M985.7 228.3L992.9 228.7L992.9 223.0L985.7 222.6Z"/>
<path fill="#c7af02" d="M985.7 222.6L992.9 223.0L992.9 217.3L985.7 216.9ZM985.7 216.9L992.9 217.3L993.0 211.6L985.7 211.2ZM985.7 211.2L993.0 211.6L993.0 205.9L985.8 205.5ZM985.8 205.5L993.0 205.9L993.0 200.1L985.8 199.8ZM985.8 199.8L993.0 200.1L993.1 194.4L985.8 194.1ZM985.8 194.1L993.1 194.4L993.1 188.7L985.8 188.4ZM985.8 188.4L993.1 188.7L993.1 183.0L985.9 182.6ZM985.9 182.6L993.1 183.0L993.2 177.2L985.9 176.9ZM985.9 176.9L993.2 177.2L993.2 171.5L985.9 171.1Z"/>
<path fill="#ce8405" d="M985.9 171.1L993.2 171.5L993.2 165.7L985.9 165.4ZM985.9 165.4L993.2 165.7L993.2 159.9L986.0 159.6ZM986.0 159.6L993.2 159.9L993.3 154.2L986.0 153.9Z"/>
<path fill="#6e5f34" d="M993.3 154.2L1004.9 141.9L1004.9 136.3L993.3 148.4Z"/>
<path fill="#6c5d33" d="M986.0 148.1L993.3 148.4L1004.9 136.3L997.9 136.0Z"/>
<path fill="#c8a761" d="M986.0 153.9L993.3 154.2L993.3 148.4L986.0 148.1Z"/>
<path fill="#ce8405" d="M992.6 285.2L999.8 285.6L999.8 280.0L992.6 279.6Z"/>
<path fill="#c7af02" d="M992.6 279.6L999.8 280.0L999.8 274.3L992.6 273.9Z"/>
<path fill="#ce8405" d="M992.6 273.9L999.8 274.3L999.9 268.7L992.7 268.3Z"/>
<path fill="#c7af02" d="M992.7 268.3L999.9 268.7L999.9 263.0L992.7 262.7ZM992.7 262.7L999.9 263.0L999.9 257.4L992.7 257.0Z"/>
<path fill="#ce8405" d="M992.7 257.0L999.9 257.4L1000.0 251.7L992.8 251.4Z"/>
<path fill="#c7af02" d="M992.8 251.4L1000.0 251.7L1000.0 246.1L992.8 245.7Z"/>
<path fill="#ce8405" d="M992.8 245.7L1000.0 246.1L1000.0 240.4L992.8 240.0ZM992.8 240.0L1000.0 240.4L1000.1 234.7L992.8 234.3ZM992.8 234.3L1000.1 234.7L1000.1 229.0L992.9 228.7ZM992.9 228.7L1000.1 229.0L1000.1 223.3L992.9 223.0Z"/>
<path fill="#c7af02" d="M992.9 223.0L1000.1 223.3L1000.2 217.6L992.9 217.3ZM992.9 217.3L1000.2 217.6L1000.2 211.9L993.0 211.6ZM993.0 211.6L1000.2 211.9L1000.2 206.2L993.0 205.9ZM993.0 205.9L1000.2 206.2L1000.3 200.5L993.0 200.1ZM993.0 200.1L1000.3 200.5L1000.3 194.8L993.1 194.4ZM993.1 194.4L1000.3 194.8L1000.4 189.0L993.1 188.7ZM993.1 188.7L1000.4 189.0L1000.4 183.3L993.1 183.0Z"/>
<path fill="#ce8405" d="M993.1 183.0L1000.4 183.3L1000.4 177.5L993.2 177.2ZM993.2 177.2L1000.4 177.5L1000.5 171.8L993.2 171.5ZM993.2 171.5L1000.5 171.8L1000.5 166.0L993.2 165.7Z"/>
<path fill="#6e5f34" d="M1000.5 166.0L1011.9 153.4L1011.9 147.8L1000.5 160.3Z"/>
<path fill="#c8a761" d="M993.2 165.7L1000.5 166.0L1000.5 160.3L993.2 159.9Z"/>
<path fill="#6e5f34" d="M1000.5 160.3L1011.9 147.8L1012.0 142.2L1000.6 154.5Z"/>
<path fill="#6c5d33" d="M993.3 154.2L1000.6 154.5L1012.0 142.2L1004.9 141.9Z"/>
<path fill="#c8a761" d="M993.2 159.9L1000.5 160.3L1000.6 154.5L993.3 154.2Z"/>
<path fill="#ce8405" d="M999.8 285.6L1007.0 286.0L1007.0 280.4L999.8 280.0Z"/>
<path fill="#c7af02" d="M999.8 280.0L1007.0 280.4L1007.0 274.7L999.8 274.3ZM999.8 274.3L1007.0 274.7L1007.1 269.1L999.9 268.7Z"/>
<path fill="#ce8405" d="M999.9 268.7L1007.1 269.1L1007.1 263.4L999.9 263.0Z"/>
<path fill="#c7af02" d="M999.9 263.0L1007.1 263.4L1007.2 257.8L999.9 257.4Z"/>
<path fill="#ce8405" d="M999.9 257.4L1007.2 257.8L1007.2 252.1L1000.0 251.7Z"/>
<path fill="#c7af02" d="M1000.0 251.7L1007.2 252.1L1007.2 246.4L1000.0 246.1ZM1000.0 246.1L1007.2 246.4L1007.3 240.8L1000.0 240.4Z"/>
<path fill="#ce8405" d="M1000.0 240.4L1007.3 240.8L1007.3 235.1L1000.1 234.7ZM1000.1 234.7L1007.3 235.1L1007.4 229.4L1000.1 229.0ZM1000.1 229.0L1007.4 229.4L1007.4 223.7L1000.1 223.3ZM1000.1 223.3L1007.4 223.7L1007.4 218.0L1000.2 217.6ZM1000.2 217.6L1007.4 218.0L1007.5 212.3L1000.2 211.9ZM1000.2 211.9L1007.5 212.3L1007.5 206.6L1000.2 206.2ZM1000.2 206.2L1007.5 206.6L1007.5 200.8L1000.3 200.5ZM1000.3 200.5L1007.5 200.8L1007.6 195.1L1000.3 194.8ZM1000.3 194.8L1007.6 195.1L1007.6 189.4L1000.4 189.0ZM1000.4 189.0L1007.6 189.4L1007.7 183.6L1000.4 183.3Z"/>
<path fill="#845002" d="M1007.7 183.6L1018.9 170.5L1018.9 164.9L1007.7 177.9Z"/>
<path fill="#ce8405" d="M1000.4 183.3L1007.7 183.6L1007.7 177.9L1000.4 177.5Z"/>
<path fill="#6e5f34" d="M1007.7 177.9L1018.9 164.9L1018.9 159.3L1007.7 172.1Z"/>
<path fill="#c8a761" d="M1000.4 177.5L1007.7 177.9L1007.7 172.1L1000.5 171.8Z"/>
<path fill="#6e5f34" d="M1007.7 172.1L1018.9 159.3L1019.0 153.7L1007.8 166.3Z"/>
<path fill="#6c5d33" d="M1000.5 166.0L1007.8 166.3L1019.0 153.7L1011.9 153.4Z"/>
<path fill="#c8a761" d="M1000.5 171.8L1007.7 172.1L1007.8 166.3L1000.5 166.0Z"/>
<path fill="#6e5f34" d="M1014.2 286.4L1025.1 270.5L1025.1 265.0L1014.2 280.8Z"/>
<path fill="#c8a761" d="M1007.0 286.0L1014.2 286.4L1014.2 280.8L1007.0 280.4Z"/>
<path fill="#ce8405" d="M1007.0 280.4L1014.2 280.8L1014.3 275.1L1007.0 274.7Z"/>
<path fill="#c7af02" d="M1007.0 274.7L1014.3 275.1L1014.3 269.5L1007.1 269.1Z"/>
<path fill="#ce8405" d="M1007.1 269.1L1014.3 269.5L1014.3 263.8L1007.1 263.4Z"/>
<path fill="#c7af02" d="M1007.1 263.4L1014.3 263.8L1014.4 258.1L1007.2 257.8ZM1007.2 257.8L1014.4 258.1L1014.4 252.5L1007.2 252.1Z"/>
<path fill="#ce8405" d="M1007.2 252.1L1014.4 252.5L1014.5 246.8L1007.2 246.4Z"/>
<path fill="#c7af02" d="M1007.2 246.4L1014.5 246.8L1014.5 241.1L1007.3 240.8Z"/>
<path fill="#ce8405" d="M1007.3 240.8L1014.5 241.1L1014.6 235.4L1007.3 235.1ZM1007.3 235.1L1014.6 235.4L1014.6 229.7L1007.4 229.4Z"/>
<path fill="#6e5f34" d="M1014.6 229.7L1025.6 215.4L1025.6 209.8L1014.6 224.0Z"/>
<path fill="#c8a761" d="M1007.4 229.4L1014.6 229.7L1014.6 224.0L1007.4 223.7Z"/>
<path fill="#6e5f34" d="M1014.6 224.0L1025.6 209.8L1025.7 204.3L1014.7 218.3Z"/>
<path fill="#c8a761" d="M1007.4 223.7L1014.6 224.0L1014.7 218.3L1007.4 218.0Z"/>
<path fill="#6e5f34" d="M1014.7 218.3L1025.7 204.3L1025.7 198.7L1014.7 212.6Z"/>
<path fill="#c8a761" d="M1007.4 218.0L1014.7 218.3L1014.7 212.6L1007.5 212.3Z"/>
<path fill="#6e5f34" d="M1014.7 212.6L1025.7 198.7L1025.8 193.2L1014.8 206.9Z"/>
<path fill="#c8a761" d="M1007.5 212.3L1014.7 212.6L1014.8 206.9L1007.5 206.6Z"/>
<path fill="#6e5f34" d="M1014.8 206.9L1025.8 193.2L1025.8 187.6L1014.8 201.2Z"/>
<path fill="#c8a761" d="M1007.5 206.6L1014.8 206.9L1014.8 201.2L1007.5 200.8Z"/>
<path fill="#6e5f34" d="M1014.8 201.2L1025.8 187.6L1025.8 182.0L1014.9 195.4Z"/>
<path fill="#c8a761" d="M1007.5 200.8L1014.8 201.2L1014.9 195.4L1007.6 195.1Z"/>
<path fill="#6e5f34" d="M1014.9 195.4L1025.8 182.0L1025.9 176.4L1014.9 189.7Z"/>
<path fill="#c8a761" d="M1007.6 195.1L1014.9 195.4L1014.9 189.7L1007.6 189.4Z"/>
<path fill="#6e5f34" d="M1014.9 189.7L1025.9 176.4L1025.9 170.8L1014.9 183.9Z"/>
<path fill="#6c5d33" d="M1007.7 183.6L1014.9 183.9L1025.9 170.8L1018.9 170.5Z"/>
<path fill="#c8a761" d="M1007.6 189.4L1014.9 189.7L1014.9 183.9L1007.7 183.6Z"/>
<path fill="#ce8405" d="M1014.2 280.8L1021.4 281.2L1021.5 275.5L1014.3 275.1ZM1014.3 275.1L1021.5 275.5L1021.5 269.9L1014.3 269.5ZM1014.3 269.5L1021.5 269.9L1021.6 264.2L1014.3 263.8ZM1014.3 263.8L1021.6 264.2L1021.6 258.5L1014.4 258.1ZM1014.4 258.1L1021.6 258.5L1021.7 252.9L1014.4 252.5ZM1014.4 252.5L1021.7 252.9L1021.7 247.2L1014.5 246.8ZM1014.5 246.8L1021.7 247.2L1021.8 241.5L1014.5 241.1ZM1014.5 241.1L1021.8 241.5L1021.8 235.8L1014.6 235.4Z"/>
<path fill="#6e5f34" d="M1021.8 235.8L1032.6 221.3L1032.6 215.7L1021.9 230.1Z"/>
<path fill="#6c5d33" d="M1014.6 229.7L1021.9 230.1L1032.6 215.7L1025.6 215.4Z"/>
<path fill="#c8a761" d="M1014.6 235.4L1021.8 235.8L1021.9 230.1L1014.6 229.7Z"/>
<path fill="#6e5f34" d="M1028.7 281.5L1039.2 265.8L1039.3 260.3L1028.7 275.9Z"/>
<path fill="#c8a761" d="M1021.4 281.2L1028.7 281.5L1028.7 275.9L1021.5 275.5Z"/>
<path fill="#6e5f34" d="M1028.7 275.9L1039.3 260.3L1039.3 254.8L1028.8 270.2Z"/>
<path fill="#c8a761" d="M1021.5 275.5L1028.7 275.9L1028.8 270.2L1021.5 269.9Z"/>
<path fill="#845002" d="M1028.8 270.2L1039.3 254.8L1039.4 249.3L1028.8 264.6Z"/>
<path fill="#ce8405" d="M1021.5 269.9L1028.8 270.2L1028.8 264.6L1021.6 264.2Z"/>
<path fill="#845002" d="M1028.8 264.6L1039.4 249.3L1039.4 243.7L1028.9 258.9Z"/>
<path fill="#ce8405" d="M1021.6 264.2L1028.8 264.6L1028.9 258.9L1021.6 258.5Z"/>
<path fill="#845002" d="M1028.9 258.9L1039.4 243.7L1039.5 238.2L1028.9 253.2Z"/>
<path fill="#ce8405" d="M1021.6 258.5L1028.9 258.9L1028.9 253.2L1021.7 252.9Z"/>
<path fill="#845002" d="M1028.9 253.2L1039.5 238.2L1039.5 232.7L1029.0 247.5Z"/>
<path fill="#ce8405" d="M1021.7 252.9L1028.9 253.2L1029.0 247.5L1021.7 247.2Z"/>
<path fill="#6e5f34" d="M1029.0 247.5L1039.5 232.7L1039.6 227.2L1029.0 241.9Z"/>
<path fill="#c8a761" d="M1021.7 247.2L1029.0 247.5L1029.0 241.9L1021.8 241.5Z"/>
<path fill="#6e5f34" d="M1029.0 241.9L1039.6 227.2L1039.6 221.6L1029.1 236.2Z"/>
<path fill="#6c5d33" d="M1021.8 235.8L1029.1 236.2L1039.6 221.6L1032.6 221.3Z"/>
<path fill="#c8a761" d="M1021.8 241.5L1029.0 241.9L1029.1 236.2L1021.8 235.8Z"/>
</g>
<polygon points="1150.2,573.3 1153.0,749.8 1212.6,694.9 1211.1,536.4" fill="#f7f7f7"/>
<polygon points="1211.1,536.4 1426.7,543.6 1424.4,705.6 1212.6,694.9" fill="#f4f4f4"/>
<polygon points="1153.0,749.8 1388.9,763.2 1424.4,705.6 1212.6,694.9" fill="#f1f1f1"/>
<polyline points="1150.2,573.3 1153.0,749.8 1388.9,763.2 1424.4,705.6" fill="none" stroke="#4a4a4a" stroke-width="1.15" stroke-linejoin="miter"/>
<g stroke="#120e00" stroke-opacity="0.6" stroke-width="1.0" stroke-linejoin="round">
<path fill="#583805" d="M1219.9 639.0L1243.1 640.0L1246.2 637.4L1223.1 636.4ZM1242.7 568.9L1266.3 569.8L1269.2 567.6L1245.8 566.8Z"/>
<path fill="#4c401e" d="M1266.2 551.8L1290.0 552.6L1292.8 550.5L1269.2 549.7Z"/>
<path fill="#c5a75f" d="M1266.3 569.8L1290.0 570.7L1290.0 552.6L1266.2 551.8Z"/>
<path fill="#524814" d="M1290.0 552.6L1313.8 553.5L1316.5 551.4L1292.8 550.5ZM1313.8 553.5L1337.8 554.3L1340.3 552.2L1316.5 551.4Z"/>
<path fill="#5a3c0a" d="M1361.8 573.3L1364.1 571.1L1364.3 553.0L1361.9 555.2Z"/>
<path fill="#583805" d="M1337.8 554.3L1361.9 555.2L1364.3 553.0L1340.3 552.2Z"/>
<path fill="#544c1e" d="M1385.8 592.4L1388.0 590.0L1388.2 572.0L1386.0 574.2Z"/>
<path fill="#524814" d="M1361.8 573.3L1386.0 574.2L1388.2 572.0L1364.1 571.1Z"/>
<path fill="#544c1e" d="M1408.9 683.2L1410.9 680.2L1411.2 662.5L1409.2 665.3ZM1409.2 665.3L1411.2 662.5L1411.4 644.7L1409.4 647.4Z"/>
<path fill="#5a3c0a" d="M1409.4 647.4L1411.4 644.7L1411.6 626.8L1409.6 629.4ZM1409.6 629.4L1411.6 626.8L1411.9 608.9L1409.8 611.4ZM1409.8 611.4L1411.9 608.9L1412.1 590.9L1410.1 593.3Z"/>
<path fill="#583805" d="M1385.8 592.4L1410.1 593.3L1412.1 590.9L1388.0 590.0Z"/>
<path fill="#4c401e" d="M1216.6 641.6L1240.1 642.7L1243.1 640.0L1219.9 639.0ZM1239.6 571.2L1263.3 572.0L1266.3 569.8L1242.7 568.9Z"/>
<path fill="#c5a75f" d="M1239.7 589.1L1263.4 590.1L1263.3 572.0L1239.6 571.2Z"/>
<path fill="#4e4324" d="M1287.3 698.0L1290.1 695.0L1290.1 677.4L1287.3 680.3Z"/>
<path fill="#524814" d="M1263.3 572.0L1287.2 572.9L1290.0 570.7L1266.3 569.8Z"/>
<path fill="#583805" d="M1287.2 554.8L1311.2 555.6L1313.8 553.5L1290.0 552.6ZM1311.2 555.6L1335.3 556.5L1337.8 554.3L1313.8 553.5Z"/>
<path fill="#4e4324" d="M1359.4 575.6L1361.8 573.3L1361.9 555.2L1359.6 557.3Z"/>
<path fill="#4c401e" d="M1335.3 556.5L1359.6 557.3L1361.9 555.2L1337.8 554.3Z"/>
<path fill="#c5a75f" d="M1335.2 574.7L1359.4 575.6L1359.6 557.3L1335.3 556.5Z"/>
<path fill="#4e4324" d="M1382.6 702.8L1384.7 699.7L1384.9 682.0L1382.7 685.0Z"/>
<path fill="#544c1e" d="M1383.6 594.8L1385.8 592.4L1386.0 574.2L1383.8 576.5Z"/>
<path fill="#524814" d="M1359.4 575.6L1383.8 576.5L1386.0 574.2L1361.8 573.3Z"/>
<path fill="#5a3c0a" d="M1406.9 686.1L1408.9 683.2L1409.2 665.3L1407.1 668.2Z"/>
<path fill="#544c1e" d="M1407.1 668.2L1409.2 665.3L1409.4 647.4L1407.3 650.2Z"/>
<path fill="#5a3c0a" d="M1407.3 650.2L1409.4 647.4L1409.6 629.4L1407.6 632.1ZM1407.6 632.1L1409.6 629.4L1409.8 611.4L1407.8 613.9Z"/>
<path fill="#4e4324" d="M1407.8 613.9L1409.8 611.4L1410.1 593.3L1408.0 595.7Z"/>
<path fill="#4c401e" d="M1383.6 594.8L1408.0 595.7L1410.1 593.3L1385.8 592.4ZM1213.4 644.3L1236.9 645.4L1240.1 642.7L1216.6 641.6Z"/>
<path fill="#c5a75f" d="M1213.5 662.1L1237.1 663.2L1236.9 645.4L1213.4 644.3Z"/>
<path fill="#524814" d="M1236.6 591.5L1260.4 592.4L1263.4 590.1L1239.7 589.1Z"/>
<path fill="#583805" d="M1260.3 574.3L1284.3 575.2L1287.2 572.9L1263.3 572.0Z"/>
<path fill="#4c401e" d="M1284.3 556.9L1308.5 557.8L1311.2 555.6L1287.2 554.8Z"/>
<path fill="#c5a75f" d="M1284.3 575.2L1308.4 576.1L1308.5 557.8L1284.3 556.9Z"/>
<path fill="#4e4324" d="M1332.7 577.0L1335.2 574.7L1335.3 556.5L1332.8 558.6Z"/>
<path fill="#4c401e" d="M1308.5 557.8L1332.8 558.6L1335.3 556.5L1311.2 555.6Z"/>
<path fill="#c5a75f" d="M1308.4 576.1L1332.7 577.0L1332.8 558.6L1308.5 557.8Z"/>
<path fill="#524814" d="M1332.7 577.0L1357.1 577.9L1359.4 575.6L1335.2 574.7Z"/>
<path fill="#5a3c0a" d="M1381.4 597.2L1383.6 594.8L1383.8 576.5L1381.5 578.8Z"/>
<path fill="#583805" d="M1357.1 577.9L1381.5 578.8L1383.8 576.5L1359.4 575.6Z"/>
<path fill="#5a3c0a" d="M1404.6 707.1L1406.7 704.0L1406.9 686.1L1404.8 689.2Z"/>
<path fill="#544c1e" d="M1404.8 689.2L1406.9 686.1L1407.1 668.2L1405.1 671.1Z"/>
<path fill="#5a3c0a" d="M1405.1 671.1L1407.1 668.2L1407.3 650.2L1405.3 653.0ZM1405.3 653.0L1407.3 650.2L1407.6 632.1L1405.5 634.8ZM1405.5 634.8L1407.6 632.1L1407.8 613.9L1405.7 616.5Z"/>
<path fill="#4e4324" d="M1405.7 616.5L1407.8 613.9L1408.0 595.7L1405.9 598.2Z"/>
<path fill="#4c401e" d="M1381.4 597.2L1405.9 598.2L1408.0 595.7L1383.6 594.8Z"/>
<path fill="#c5a75f" d="M1381.2 615.5L1405.7 616.5L1405.9 598.2L1381.4 597.2ZM1210.6 700.5L1234.1 701.7L1234.0 683.9L1210.4 682.7Z"/>
<path fill="#583805" d="M1210.2 664.9L1233.9 666.0L1237.1 663.2L1213.5 662.1Z"/>
<path fill="#c7af02" d="M1234.1 701.7L1257.8 702.9L1257.7 685.1L1234.0 683.9Z"/>
<path fill="#583805" d="M1233.4 593.9L1257.4 594.8L1260.4 592.4L1236.6 591.5Z"/>
<path fill="#c7af02" d="M1257.8 702.9L1281.6 704.1L1281.6 686.3L1257.7 685.1Z"/>
<path fill="#583805" d="M1257.3 576.6L1281.4 577.5L1284.3 575.2L1260.3 574.3Z"/>
<path fill="#c7af02" d="M1281.6 704.1L1305.6 705.4L1305.6 687.4L1281.6 686.3Z"/>
<path fill="#524814" d="M1281.4 577.5L1305.7 578.4L1308.4 576.1L1284.3 575.2Z"/>
<path fill="#c7af02" d="M1305.6 705.4L1329.6 706.6L1329.7 688.6L1305.6 687.4Z"/>
<path fill="#524814" d="M1305.7 578.4L1330.1 579.3L1332.7 577.0L1308.4 576.1Z"/>
<path fill="#c7af02" d="M1329.6 706.6L1353.8 707.8L1353.9 689.8L1329.7 688.6Z"/>
<path fill="#524814" d="M1330.1 579.3L1354.6 580.2L1357.1 577.9L1332.7 577.0Z"/>
<path fill="#c7af02" d="M1353.8 707.8L1378.1 709.1L1378.3 691.0L1353.9 689.8Z"/>
<path fill="#544c1e" d="M1378.9 618.1L1381.2 615.5L1381.4 597.2L1379.1 599.7Z"/>
<path fill="#4e4324" d="M1379.1 599.7L1381.4 597.2L1381.5 578.8L1379.3 581.2Z"/>
<path fill="#4c401e" d="M1354.6 580.2L1379.3 581.2L1381.5 578.8L1357.1 577.9Z"/>
<path fill="#544c1e" d="M1402.5 710.3L1404.6 707.1L1404.8 689.2L1402.8 692.2Z"/>
<path fill="#c7af02" d="M1378.1 709.1L1402.5 710.3L1402.8 692.2L1378.3 691.0Z"/>
<path fill="#5a3c0a" d="M1402.8 692.2L1404.8 689.2L1405.1 671.1L1403.0 674.1ZM1403.0 674.1L1405.1 671.1L1405.3 653.0L1403.2 655.8ZM1403.2 655.8L1405.3 653.0L1405.5 634.8L1403.4 637.5ZM1403.4 637.5L1405.5 634.8L1405.7 616.5L1403.6 619.1Z"/>
<path fill="#583805" d="M1378.9 618.1L1403.6 619.1L1405.7 616.5L1381.2 615.5ZM1206.7 649.8L1230.6 650.9L1233.8 648.1L1210.1 647.0ZM1230.1 578.0L1254.2 578.9L1257.3 576.6L1233.3 575.7ZM1254.1 560.5L1278.5 561.3L1281.4 559.1L1257.2 558.2Z"/>
<path fill="#c88004" d="M1254.2 578.9L1278.5 579.8L1278.5 561.3L1254.1 560.5Z"/>
<path fill="#524814" d="M1278.5 561.3L1303.0 562.2L1305.7 560.0L1281.4 559.1ZM1303.0 562.2L1327.6 563.1L1330.2 560.8L1305.7 560.0Z"/>
<path fill="#5a3c0a" d="M1352.2 582.6L1354.6 580.2L1354.8 561.7L1352.3 564.0Z"/>
<path fill="#583805" d="M1327.6 563.1L1352.3 564.0L1354.8 561.7L1330.2 560.8Z"/>
<path fill="#544c1e" d="M1376.7 620.7L1378.9 618.1L1379.1 599.7L1376.8 602.2ZM1376.8 602.2L1379.1 599.7L1379.3 581.2L1377.0 583.5Z"/>
<path fill="#524814" d="M1352.2 582.6L1377.0 583.5L1379.3 581.2L1354.6 580.2Z"/>
<path fill="#544c1e" d="M1400.6 695.3L1402.8 692.2L1403.0 674.1L1400.9 677.0Z"/>
<path fill="#5a3c0a" d="M1400.9 677.0L1403.0 674.1L1403.2 655.8L1401.1 658.7Z"/>
<path fill="#4e4324" d="M1401.1 658.7L1403.2 655.8L1403.4 637.5L1401.3 640.2ZM1401.3 640.2L1403.4 637.5L1403.6 619.1L1401.5 621.7Z"/>
<path fill="#4c401e" d="M1376.7 620.7L1401.5 621.7L1403.6 619.1L1378.9 618.1Z"/>
<path fill="#583805" d="M1203.3 652.6L1227.3 653.7L1230.6 650.9L1206.7 649.8ZM1226.8 580.3L1251.1 581.3L1254.2 578.9L1230.1 578.0Z"/>
<path fill="#4e4324" d="M1275.8 710.4L1278.7 707.3L1278.7 689.3L1275.8 692.3Z"/>
<path fill="#524814" d="M1251.1 581.3L1275.6 582.2L1278.5 579.8L1254.2 578.9Z"/>
<path fill="#583805" d="M1275.5 563.6L1300.1 564.5L1303.0 562.2L1278.5 561.3ZM1300.1 564.5L1324.9 565.3L1327.6 563.1L1303.0 562.2Z"/>
<path fill="#4e4324" d="M1349.7 585.0L1352.2 582.6L1352.3 564.0L1349.8 566.2Z"/>
<path fill="#4c401e" d="M1324.9 565.3L1349.8 566.2L1352.3 564.0L1327.6 563.1Z"/>
<path fill="#c5a75f" d="M1324.8 584.1L1349.7 585.0L1349.8 566.2L1324.9 565.3Z"/>
<path fill="#4e4324" d="M1373.5 715.5L1375.8 712.3L1376.0 694.1L1373.7 697.2Z"/>
<path fill="#544c1e" d="M1374.3 623.4L1376.7 620.7L1376.8 602.2L1374.5 604.7Z"/>
<path fill="#5a3c0a" d="M1374.5 604.7L1376.8 602.2L1377.0 583.5L1374.7 586.0Z"/>
<path fill="#583805" d="M1349.7 585.0L1374.7 586.0L1377.0 583.5L1352.2 582.6Z"/>
<path fill="#5a3c0a" d="M1398.5 698.5L1400.6 695.3L1400.9 677.0L1398.7 680.1Z"/>
<path fill="#544c1e" d="M1398.7 680.1L1400.9 677.0L1401.1 658.7L1398.9 661.6Z"/>
<path fill="#4e4324" d="M1398.9 661.6L1401.1 658.7L1401.3 640.2L1399.1 643.0ZM1399.1 643.0L1401.3 640.2L1401.5 621.7L1399.3 624.4Z"/>
<path fill="#4c401e" d="M1374.3 623.4L1399.3 624.4L1401.5 621.7L1376.7 620.7Z"/>
<path fill="#583805" d="M1199.9 655.4L1224.0 656.5L1227.3 653.7L1203.3 652.6Z"/>
<path fill="#4c401e" d="M1223.5 582.7L1247.9 583.6L1251.1 581.3L1226.8 580.3Z"/>
<path fill="#c5a75f" d="M1223.6 601.3L1248.0 602.3L1247.9 583.6L1223.5 582.7Z"/>
<path fill="#524814" d="M1247.9 583.6L1272.5 584.6L1275.6 582.2L1251.1 581.3Z"/>
<path fill="#4c401e" d="M1272.5 565.8L1297.3 566.7L1300.1 564.5L1275.5 563.6Z"/>
<path fill="#c5a75f" d="M1272.5 584.6L1297.3 585.5L1297.3 566.7L1272.5 565.8Z"/>
<path fill="#4e4324" d="M1322.2 586.5L1324.8 584.1L1324.9 565.3L1322.2 567.6Z"/>
<path fill="#4c401e" d="M1297.3 566.7L1322.2 567.6L1324.9 565.3L1300.1 564.5Z"/>
<path fill="#c5a75f" d="M1297.3 585.5L1322.2 586.5L1322.2 567.6L1297.3 566.7Z"/>
<path fill="#524814" d="M1322.2 586.5L1347.2 587.4L1349.7 585.0L1324.8 584.1Z"/>
<path fill="#544c1e" d="M1372.0 626.0L1374.3 623.4L1374.5 604.7L1372.1 607.3Z"/>
<path fill="#4e4324" d="M1372.1 607.3L1374.5 604.7L1374.7 586.0L1372.3 588.4Z"/>
<path fill="#4c401e" d="M1347.2 587.4L1372.3 588.4L1374.7 586.0L1349.7 585.0Z"/>
<path fill="#c5a75f" d="M1347.1 606.3L1372.1 607.3L1372.3 588.4L1347.2 587.4Z"/>
<path fill="#4e4324" d="M1396.1 720.1L1398.3 716.8L1398.5 698.5L1396.3 701.7Z"/>
<path fill="#544c1e" d="M1396.3 701.7L1398.5 698.5L1398.7 680.1L1396.5 683.1Z"/>
<path fill="#5a3c0a" d="M1396.5 683.1L1398.7 680.1L1398.9 661.6L1396.7 664.5Z"/>
<path fill="#4e4324" d="M1396.7 664.5L1398.9 661.6L1399.1 643.0L1397.0 645.9ZM1397.0 645.9L1399.1 643.0L1399.3 624.4L1397.2 627.1Z"/>
<path fill="#4c401e" d="M1372.0 626.0L1397.2 627.1L1399.3 624.4L1374.3 623.4Z"/>
<path fill="#c88004" d="M1197.0 713.1L1221.1 714.4L1221.0 696.1L1196.8 694.9Z"/>
<path fill="#4c401e" d="M1196.4 658.3L1220.7 659.4L1224.0 656.5L1199.9 655.4Z"/>
<path fill="#c7af02" d="M1221.1 714.4L1245.4 715.6L1245.3 697.4L1221.0 696.1Z"/>
<path fill="#524814" d="M1220.2 603.8L1244.8 604.8L1248.0 602.3L1223.6 601.3Z"/>
<path fill="#c7af02" d="M1245.4 715.6L1269.9 716.9L1269.8 698.6L1245.3 697.4Z"/>
<path fill="#583805" d="M1244.7 586.1L1269.5 587.0L1272.5 584.6L1247.9 583.6Z"/>
<path fill="#c88004" d="M1269.9 716.9L1294.4 718.2L1294.4 699.8L1269.8 698.6Z"/>
<path fill="#524814" d="M1269.5 587.0L1294.4 588.0L1297.3 585.5L1272.5 584.6Z"/>
<path fill="#c88004" d="M1294.4 718.2L1319.1 719.5L1319.1 701.1L1294.4 699.8Z"/>
<path fill="#524814" d="M1294.4 588.0L1319.4 588.9L1322.2 586.5L1297.3 585.5Z"/>
<path fill="#c7af02" d="M1319.1 719.5L1343.9 720.8L1344.0 702.4L1319.1 701.1Z"/>
<path fill="#5a3c0a" d="M1344.5 608.8L1347.1 606.3L1347.2 587.4L1344.6 589.9Z"/>
<path fill="#583805" d="M1319.4 588.9L1344.6 589.9L1347.2 587.4L1322.2 586.5Z"/>
<path fill="#c7af02" d="M1343.9 720.8L1368.8 722.1L1369.0 703.6L1344.0 702.4Z"/>
<path fill="#544c1e" d="M1369.6 628.8L1372.0 626.0L1372.1 607.3L1369.8 609.9Z"/>
<path fill="#524814" d="M1344.5 608.8L1369.8 609.9L1372.1 607.3L1347.1 606.3Z"/>
<path fill="#5a3c0a" d="M1393.9 723.5L1396.1 720.1L1396.3 701.7L1394.1 704.9Z"/>
<path fill="#c88004" d="M1368.8 722.1L1393.9 723.5L1394.1 704.9L1369.0 703.6Z"/>
<path fill="#544c1e" d="M1394.1 704.9L1396.3 701.7L1396.5 683.1L1394.3 686.3Z"/>
<path fill="#5a3c0a" d="M1394.3 686.3L1396.5 683.1L1396.7 664.5L1394.5 667.5Z"/>
<path fill="#4e4324" d="M1394.5 667.5L1396.7 664.5L1397.0 645.9L1394.7 648.7Z"/>
<path fill="#c5a75f" d="M1369.3 666.4L1394.5 667.5L1394.7 648.7L1369.5 647.6Z"/>
<path fill="#4e4324" d="M1394.7 648.7L1397.0 645.9L1397.2 627.1L1394.9 629.9Z"/>
<path fill="#4c401e" d="M1369.6 628.8L1394.9 629.9L1397.2 627.1L1372.0 626.0Z"/>
<path fill="#c5a75f" d="M1369.5 647.6L1394.7 648.7L1394.9 629.9L1369.6 628.8Z"/>
<path fill="#583805" d="M1192.2 605.3L1216.8 606.4L1220.2 603.8L1195.8 602.8Z"/>
<path fill="#524814" d="M1216.7 587.5L1241.5 588.5L1244.7 586.1L1220.1 585.1Z"/>
<path fill="#583805" d="M1241.4 569.6L1266.3 570.5L1269.4 568.1L1244.6 567.2Z"/>
<path fill="#524814" d="M1266.3 570.5L1291.5 571.4L1294.4 569.1L1269.4 568.1ZM1291.5 571.4L1316.7 572.3L1319.5 570.0L1294.4 569.1Z"/>
<path fill="#4e4324" d="M1342.0 592.4L1344.6 589.9L1344.7 570.9L1342.1 573.3Z"/>
<path fill="#4c401e" d="M1316.7 572.3L1342.1 573.3L1344.7 570.9L1319.5 570.0Z"/>
<path fill="#c5a75f" d="M1316.7 591.4L1342.0 592.4L1342.1 573.3L1316.7 572.3Z"/>
<path fill="#5a3c0a" d="M1366.9 669.4L1369.3 666.4L1369.5 647.6L1367.0 650.5Z"/>
<path fill="#544c1e" d="M1367.0 650.5L1369.5 647.6L1369.6 628.8L1367.2 631.5ZM1367.2 631.5L1369.6 628.8L1369.8 609.9L1367.3 612.5Z"/>
<path fill="#5a3c0a" d="M1367.3 612.5L1369.8 609.9L1369.9 590.9L1367.5 593.4Z"/>
<path fill="#583805" d="M1342.0 592.4L1367.5 593.4L1369.9 590.9L1344.6 589.9Z"/>
<path fill="#5a3c0a" d="M1391.9 708.2L1394.1 704.9L1394.3 686.3L1392.1 689.4ZM1392.1 689.4L1394.3 686.3L1394.5 667.5L1392.3 670.6Z"/>
<path fill="#583805" d="M1366.9 669.4L1392.3 670.6L1394.5 667.5L1369.3 666.4ZM1188.6 607.9L1213.4 608.9L1216.8 606.4L1192.2 605.3Z"/>
<path fill="#524814" d="M1213.2 590.0L1238.2 591.0L1241.5 588.5L1216.7 587.5Z"/>
<path fill="#4e4324" d="M1263.7 723.6L1266.8 720.2L1266.8 701.8L1263.7 705.0Z"/>
<path fill="#4c401e" d="M1238.1 571.9L1263.2 572.8L1266.3 570.5L1241.4 569.6Z"/>
<path fill="#c5a75f" d="M1238.2 591.0L1263.3 592.0L1263.2 572.8L1238.1 571.9Z"/>
<path fill="#583805" d="M1263.2 572.8L1288.5 573.8L1291.5 571.4L1266.3 570.5Z"/>
<path fill="#5a3c0a" d="M1313.9 593.9L1316.7 591.4L1316.7 572.3L1313.9 574.7Z"/>
<path fill="#583805" d="M1288.5 573.8L1313.9 574.7L1316.7 572.3L1291.5 571.4Z"/>
<path fill="#4e4324" d="M1338.7 727.6L1341.3 724.2L1341.4 705.6L1338.8 708.9Z"/>
<path fill="#524814" d="M1313.9 593.9L1339.4 594.9L1342.0 592.4L1316.7 591.4Z"/>
<path fill="#544c1e" d="M1364.5 672.4L1366.9 669.4L1367.0 650.5L1364.6 653.4ZM1364.6 653.4L1367.0 650.5L1367.2 631.5L1364.7 634.4ZM1364.7 634.4L1367.2 631.5L1367.3 612.5L1364.9 615.2Z"/>
<path fill="#4e4324" d="M1364.9 615.2L1367.3 612.5L1367.5 593.4L1365.0 596.0Z"/>
<path fill="#4c401e" d="M1339.4 594.9L1365.0 596.0L1367.5 593.4L1342.0 592.4Z"/>
<path fill="#c5a75f" d="M1339.3 614.1L1364.9 615.2L1365.0 596.0L1339.4 594.9Z"/>
<path fill="#5a3c0a" d="M1389.6 711.5L1391.9 708.2L1392.1 689.4L1389.8 692.6ZM1389.8 692.6L1392.1 689.4L1392.3 670.6L1390.0 673.6Z"/>
<path fill="#583805" d="M1364.5 672.4L1390.0 673.6L1392.3 670.6L1366.9 669.4Z"/>
<path fill="#4c401e" d="M1185.0 610.5L1209.9 611.6L1213.4 608.9L1188.6 607.9Z"/>
<path fill="#583805" d="M1209.7 592.5L1234.8 593.5L1238.2 591.0L1213.2 590.0Z"/>
<path fill="#524814" d="M1234.8 593.5L1260.1 594.5L1263.3 592.0L1238.2 591.0Z"/>
<path fill="#4c401e" d="M1260.0 575.2L1285.5 576.2L1288.5 573.8L1263.2 572.8Z"/>
<path fill="#c5a75f" d="M1260.1 594.5L1285.5 595.5L1285.5 576.2L1260.0 575.2Z"/>
<path fill="#4e4324" d="M1311.0 596.5L1313.9 593.9L1313.9 574.7L1311.1 577.2Z"/>
<path fill="#4c401e" d="M1285.5 576.2L1311.1 577.2L1313.9 574.7L1288.5 573.8Z"/>
<path fill="#c5a75f" d="M1285.5 595.5L1311.0 596.5L1311.1 577.2L1285.5 576.2Z"/>
<path fill="#544c1e" d="M1336.6 616.8L1339.3 614.1L1339.4 594.9L1336.7 597.5Z"/>
<path fill="#524814" d="M1311.0 596.5L1336.7 597.5L1339.4 594.9L1313.9 593.9Z"/>
<path fill="#5a3c0a" d="M1361.6 732.4L1364.0 729.0L1364.2 710.2L1361.7 713.5Z"/>
<path fill="#544c1e" d="M1362.0 675.5L1364.5 672.4L1364.6 653.4L1362.1 656.4ZM1362.1 656.4L1364.6 653.4L1364.7 634.4L1362.3 637.2Z"/>
<path fill="#5a3c0a" d="M1362.3 637.2L1364.7 634.4L1364.9 615.2L1362.4 617.9Z"/>
<path fill="#583805" d="M1336.6 616.8L1362.4 617.9L1364.9 615.2L1339.3 614.1Z"/>
<path fill="#5a3c0a" d="M1387.3 714.9L1389.6 711.5L1389.8 692.6L1387.5 695.9ZM1387.5 695.9L1389.8 692.6L1390.0 673.6L1387.7 676.8Z"/>
<path fill="#583805" d="M1362.0 675.5L1387.7 676.8L1390.0 673.6L1364.5 672.4Z"/>
<path fill="#c88004" d="M1182.7 726.4L1207.4 727.7L1207.3 709.0L1182.4 707.7Z"/>
<path fill="#4c401e" d="M1181.2 613.2L1206.3 614.2L1209.9 611.6L1185.0 610.5Z"/>
<path fill="#c7af02" d="M1207.4 727.7L1232.4 729.1L1232.2 710.3L1207.3 709.0Z"/>
<path fill="#4c401e" d="M1206.2 595.0L1231.4 596.0L1234.8 593.5L1209.7 592.5Z"/>
<path fill="#c7af02" d="M1232.4 729.1L1257.4 730.4L1257.4 711.6L1232.2 710.3Z"/>
<path fill="#524814" d="M1231.4 596.0L1256.9 597.1L1260.1 594.5L1234.8 593.5Z"/>
<path fill="#c88004" d="M1257.4 730.4L1282.6 731.8L1282.6 712.9L1257.4 711.6Z"/>
<path fill="#524814" d="M1256.9 597.1L1282.4 598.1L1285.5 595.5L1260.1 594.5Z"/>
<path fill="#c88004" d="M1282.6 731.8L1308.0 733.2L1308.0 714.3L1282.6 712.9Z"/>
<path fill="#524814" d="M1282.4 598.1L1308.2 599.1L1311.0 596.5L1285.5 595.5Z"/>
<path fill="#c7af02" d="M1308.0 733.2L1333.4 734.6L1333.5 715.6L1308.0 714.3Z"/>
<path fill="#5a3c0a" d="M1333.9 619.6L1336.6 616.8L1336.7 597.5L1334.0 600.1Z"/>
<path fill="#583805" d="M1308.2 599.1L1334.0 600.1L1336.7 597.5L1311.0 596.5Z"/>
<path fill="#c7af02" d="M1333.4 734.6L1359.1 736.0L1359.2 716.9L1333.5 715.6Z"/>
<path fill="#544c1e" d="M1359.5 678.7L1362.0 675.5L1362.1 656.4L1359.6 659.4ZM1359.6 659.4L1362.1 656.4L1362.3 637.2L1359.7 640.1Z"/>
<path fill="#5a3c0a" d="M1359.7 640.1L1362.3 637.2L1362.4 617.9L1359.9 620.7Z"/>
<path fill="#583805" d="M1333.9 619.6L1359.9 620.7L1362.4 617.9L1336.6 616.8Z"/>
<path fill="#5a3c0a" d="M1384.8 737.3L1387.1 733.8L1387.3 714.9L1385.0 718.3Z"/>
<path fill="#c88004" d="M1359.1 736.0L1384.8 737.3L1385.0 718.3L1359.2 716.9Z"/>
<path fill="#5a3c0a" d="M1385.0 718.3L1387.3 714.9L1387.5 695.9L1385.2 699.1Z"/>
<path fill="#4e4324" d="M1385.2 699.1L1387.5 695.9L1387.7 676.8L1385.4 679.9Z"/>
<path fill="#4c401e" d="M1359.5 678.7L1385.4 679.9L1387.7 676.8L1362.0 675.5ZM1177.2 596.6L1202.5 597.6L1206.2 595.0L1181.0 594.0Z"/>
<path fill="#c5a75f" d="M1177.5 615.9L1202.7 616.9L1202.5 597.6L1177.2 596.6Z"/>
<path fill="#524814" d="M1202.5 597.6L1228.0 598.6L1231.4 596.0L1206.2 595.0ZM1227.9 579.2L1253.5 580.2L1256.8 577.7L1231.3 576.7ZM1253.5 580.2L1279.3 581.1L1282.4 578.6L1256.8 577.7Z"/>
<path fill="#583805" d="M1279.3 581.1L1305.3 582.1L1308.2 579.6L1282.4 578.6Z"/>
<path fill="#4e4324" d="M1331.3 602.8L1334.0 600.1L1334.1 580.6L1331.4 583.1Z"/>
<path fill="#4c401e" d="M1305.3 582.1L1331.4 583.1L1334.1 580.6L1308.2 579.6Z"/>
<path fill="#c5a75f" d="M1305.2 601.7L1331.3 602.8L1331.4 583.1L1305.3 582.1Z"/>
<path fill="#5a3c0a" d="M1356.9 681.9L1359.5 678.7L1359.6 659.4L1357.1 662.5Z"/>
<path fill="#544c1e" d="M1357.1 662.5L1359.6 659.4L1359.7 640.1L1357.2 643.0Z"/>
<path fill="#5a3c0a" d="M1357.2 643.0L1359.7 640.1L1359.9 620.7L1357.3 623.5Z"/>
<path fill="#4e4324" d="M1357.3 623.5L1359.9 620.7L1360.0 601.2L1357.5 603.8Z"/>
<path fill="#4c401e" d="M1331.3 602.8L1357.5 603.8L1360.0 601.2L1334.0 600.1Z"/>
<path fill="#c5a75f" d="M1331.2 622.4L1357.3 623.5L1357.5 603.8L1331.3 602.8Z"/>
<path fill="#4e4324" d="M1382.6 721.8L1385.0 718.3L1385.2 699.1L1382.8 702.5Z"/>
<path fill="#5a3c0a" d="M1382.8 702.5L1385.2 699.1L1385.4 679.9L1383.0 683.1Z"/>
<path fill="#583805" d="M1356.9 681.9L1383.0 683.1L1385.4 679.9L1359.5 678.7ZM1173.7 618.6L1199.1 619.7L1202.7 616.9L1177.5 615.9Z"/>
<path fill="#524814" d="M1198.9 600.2L1224.5 601.3L1228.0 598.6L1202.5 597.6Z"/>
<path fill="#4e4324" d="M1251.0 737.5L1254.2 733.9L1254.1 715.0L1250.9 718.4Z"/>
<path fill="#583805" d="M1224.4 581.7L1250.2 582.7L1253.5 580.2L1227.9 579.2ZM1250.2 582.7L1276.2 583.7L1279.3 581.1L1253.5 580.2Z"/>
<path fill="#5a3c0a" d="M1302.3 604.4L1305.2 601.7L1305.3 582.1L1302.3 584.6Z"/>
<path fill="#583805" d="M1276.2 583.7L1302.3 584.6L1305.3 582.1L1279.3 581.1Z"/>
<path fill="#c88004" d="M1276.2 603.3L1302.3 604.4L1302.3 584.6L1276.2 583.7Z"/>
<path fill="#4e4324" d="M1328.0 741.7L1330.7 738.1L1330.8 719.0L1328.1 722.5Z"/>
<path fill="#544c1e" d="M1328.4 625.2L1331.2 622.4L1331.3 602.8L1328.5 605.5Z"/>
<path fill="#524814" d="M1302.3 604.4L1328.5 605.5L1331.3 602.8L1305.2 601.7Z"/>
<path fill="#544c1e" d="M1354.3 685.1L1356.9 681.9L1357.1 662.5L1354.5 665.6ZM1354.5 665.6L1357.1 662.5L1357.2 643.0L1354.6 646.0Z"/>
<path fill="#5a3c0a" d="M1354.6 646.0L1357.2 643.0L1357.3 623.5L1354.7 626.3Z"/>
<path fill="#583805" d="M1328.4 625.2L1354.7 626.3L1357.3 623.5L1331.2 622.4Z"/>
<path fill="#5a3c0a" d="M1380.2 725.3L1382.6 721.8L1382.8 702.5L1380.4 705.9Z"/>
<path fill="#4e4324" d="M1380.4 705.9L1382.8 702.5L1383.0 683.1L1380.6 686.4Z"/>
<path fill="#4c401e" d="M1354.3 685.1L1380.6 686.4L1383.0 683.1L1356.9 681.9Z"/>
<path fill="#583805" d="M1169.8 621.4L1195.4 622.5L1199.1 619.7L1173.7 618.6ZM1195.2 602.9L1221.0 603.9L1224.5 601.3L1198.9 600.2Z"/>
<path fill="#4c401e" d="M1220.8 584.2L1246.8 585.2L1250.2 582.7L1224.4 581.7Z"/>
<path fill="#c5a75f" d="M1221.0 603.9L1246.9 605.0L1246.8 585.2L1220.8 584.2Z"/>
<path fill="#4e4324" d="M1273.0 606.0L1276.2 603.3L1276.2 583.7L1273.0 586.2Z"/>
<path fill="#4c401e" d="M1246.8 585.2L1273.0 586.2L1276.2 583.7L1250.2 582.7Z"/>
<path fill="#c5a75f" d="M1246.9 605.0L1273.0 606.0L1273.0 586.2L1246.8 585.2Z"/>
<path fill="#524814" d="M1273.0 606.0L1299.3 607.1L1302.3 604.4L1276.2 603.3Z"/>
<path fill="#5a3c0a" d="M1325.6 628.0L1328.4 625.2L1328.5 605.5L1325.7 608.2Z"/>
<path fill="#583805" d="M1299.3 607.1L1325.7 608.2L1328.5 605.5L1302.3 604.4Z"/>
<path fill="#5a3c0a" d="M1351.3 746.8L1354.0 743.2L1354.1 723.9L1351.5 727.4Z"/>
<path fill="#544c1e" d="M1351.7 688.4L1354.3 685.1L1354.5 665.6L1351.8 668.7ZM1351.8 668.7L1354.5 665.6L1354.6 646.0L1352.0 649.0Z"/>
<path fill="#5a3c0a" d="M1352.0 649.0L1354.6 646.0L1354.7 626.3L1352.1 629.2Z"/>
<path fill="#583805" d="M1325.6 628.0L1352.1 629.2L1354.7 626.3L1328.4 625.2Z"/>
<path fill="#5a3c0a" d="M1377.8 728.8L1380.2 725.3L1380.4 705.9L1378.0 709.3Z"/>
<path fill="#4e4324" d="M1378.0 709.3L1380.4 705.9L1380.6 686.4L1378.2 689.7Z"/>
<path fill="#4c401e" d="M1351.7 688.4L1378.2 689.7L1380.6 686.4L1354.3 685.1Z"/>
<path fill="#c7af02" d="M1167.5 740.4L1193.0 741.9L1192.7 722.6L1167.2 721.3Z"/>
<path fill="#c88004" d="M1167.2 721.3L1192.7 722.6L1192.5 703.3L1167.0 702.0ZM1167.0 702.0L1192.5 703.3L1192.3 684.0L1166.7 682.7Z"/>
<path fill="#c7af02" d="M1166.7 682.7L1192.3 684.0L1192.1 664.5L1166.4 663.3ZM1166.4 663.3L1192.1 664.5L1191.9 644.9L1166.1 643.8Z"/>
<path fill="#583805" d="M1165.9 624.2L1191.6 625.3L1195.4 622.5L1169.8 621.4Z"/>
<path fill="#c88004" d="M1166.1 643.8L1191.9 644.9L1191.6 625.3L1165.9 624.2Z"/>
<path fill="#c7af02" d="M1193.0 741.9L1218.6 743.3L1218.4 724.0L1192.7 722.6ZM1192.7 722.6L1218.4 724.0L1218.2 704.7L1192.5 703.3Z"/>
<path fill="#c88004" d="M1192.5 703.3L1218.2 704.7L1218.1 685.2L1192.3 684.0Z"/>
<path fill="#c7af02" d="M1192.3 684.0L1218.1 685.2L1217.9 665.7L1192.1 664.5Z"/>
<path fill="#c88004" d="M1192.1 664.5L1217.9 665.7L1217.7 646.1L1191.9 644.9Z"/>
<path fill="#c7af02" d="M1191.9 644.9L1217.7 646.1L1217.6 626.4L1191.6 625.3Z"/>
<path fill="#4c401e" d="M1191.4 605.6L1217.4 606.6L1221.0 603.9L1195.2 602.9Z"/>
<path fill="#c5a75f" d="M1191.6 625.3L1217.6 626.4L1217.4 606.6L1191.4 605.6Z"/>
<path fill="#c7af02" d="M1218.6 743.3L1244.3 744.7L1244.2 725.4L1218.4 724.0ZM1218.4 724.0L1244.2 725.4L1244.1 706.0L1218.2 704.7ZM1218.2 704.7L1244.1 706.0L1244.0 686.5L1218.1 685.2Z"/>
<path fill="#1f242d" d="M1218.1 685.2L1244.0 686.5L1243.9 666.9L1217.9 665.7Z"/>
<path fill="#7f661f" d="M1217.9 665.7L1243.9 666.9L1243.7 647.3L1217.7 646.1Z"/>
<path fill="#c7af02" d="M1217.7 646.1L1243.7 647.3L1243.6 627.5L1217.6 626.4Z"/>
<path fill="#524814" d="M1217.4 606.6L1243.5 607.7L1246.9 605.0L1221.0 603.9Z"/>
<path fill="#c7af02" d="M1217.6 626.4L1243.6 627.5L1243.5 607.7L1217.4 606.6Z"/>
<path fill="#c88004" d="M1244.3 744.7L1270.2 746.2L1270.1 726.8L1244.2 725.4Z"/>
<path fill="#c7af02" d="M1244.2 725.4L1270.1 726.8L1270.1 707.3L1244.1 706.0Z"/>
<path fill="#c8191e" d="M1244.1 706.0L1270.1 707.3L1270.0 687.8L1244.0 686.5Z"/>
<path fill="#7f661f" d="M1244.0 686.5L1270.0 687.8L1270.0 668.2L1243.9 666.9Z"/>
<path fill="#c7af02" d="M1243.9 666.9L1270.0 668.2L1269.9 648.5L1243.7 647.3ZM1243.7 647.3L1269.9 648.5L1269.9 628.7L1243.6 627.5Z"/>
<path fill="#524814" d="M1243.5 607.7L1269.8 608.8L1273.0 606.0L1246.9 605.0Z"/>
<path fill="#c7af02" d="M1243.6 627.5L1269.9 628.7L1269.8 608.8L1243.5 607.7ZM1270.2 746.2L1296.2 747.6L1296.2 728.2L1270.1 726.8ZM1270.1 726.8L1296.2 728.2L1296.2 708.7L1270.1 707.3ZM1270.1 707.3L1296.2 708.7L1296.2 689.1L1270.0 687.8Z"/>
<path fill="#1f242d" d="M1270.0 687.8L1296.2 689.1L1296.2 669.4L1270.0 668.2Z"/>
<path fill="#7f661f" d="M1270.0 668.2L1296.2 669.4L1296.2 649.7L1269.9 648.5Z"/>
<path fill="#c7af02" d="M1269.9 648.5L1296.2 649.7L1296.2 629.8L1269.9 628.7Z"/>
<path fill="#524814" d="M1269.8 608.8L1296.2 609.9L1299.3 607.1L1273.0 606.0Z"/>
<path fill="#c7af02" d="M1269.9 628.7L1296.2 629.8L1296.2 609.9L1269.8 608.8ZM1296.2 747.6L1322.4 749.1L1322.4 729.6L1296.2 728.2ZM1296.2 728.2L1322.4 729.6L1322.5 710.1L1296.2 708.7Z"/>
<path fill="#c88004" d="M1296.2 708.7L1322.5 710.1L1322.6 690.4L1296.2 689.1Z"/>
<path fill="#c7af02" d="M1296.2 689.1L1322.6 690.4L1322.6 670.7L1296.2 669.4ZM1296.2 669.4L1322.6 670.7L1322.7 650.8L1296.2 649.7ZM1296.2 649.7L1322.7 650.8L1322.7 630.9L1296.2 629.8Z"/>
<path fill="#5a3c0a" d="M1322.7 630.9L1325.6 628.0L1325.7 608.2L1322.8 610.9Z"/>
<path fill="#583805" d="M1296.2 609.9L1322.8 610.9L1325.7 608.2L1299.3 607.1Z"/>
<path fill="#c88004" d="M1296.2 629.8L1322.7 630.9L1322.8 610.9L1296.2 609.9Z"/>
<path fill="#c7af02" d="M1322.4 749.1L1348.7 750.6L1348.8 731.0L1322.4 729.6ZM1322.4 729.6L1348.8 731.0L1348.9 711.4L1322.5 710.1Z"/>
<path fill="#c88004" d="M1322.5 710.1L1348.9 711.4L1349.1 691.7L1322.6 690.4Z"/>
<path fill="#544c1e" d="M1349.1 691.7L1351.7 688.4L1351.8 668.7L1349.2 671.9Z"/>
<path fill="#c7af02" d="M1322.6 690.4L1349.1 691.7L1349.2 671.9L1322.6 670.7Z"/>
<path fill="#544c1e" d="M1349.2 671.9L1351.8 668.7L1352.0 649.0L1349.3 652.1Z"/>
<path fill="#c7af02" d="M1322.6 670.7L1349.2 671.9L1349.3 652.1L1322.7 650.8Z"/>
<path fill="#4e4324" d="M1349.3 652.1L1352.0 649.0L1352.1 629.2L1349.4 632.1Z"/>
<path fill="#4c401e" d="M1322.7 630.9L1349.4 632.1L1352.1 629.2L1325.6 628.0Z"/>
<path fill="#c5a75f" d="M1322.7 650.8L1349.3 652.1L1349.4 632.1L1322.7 630.9Z"/>
<path fill="#4e4324" d="M1375.2 752.0L1377.6 748.3L1377.8 728.8L1375.4 732.5Z"/>
<path fill="#c5a75f" d="M1348.7 750.6L1375.2 752.0L1375.4 732.5L1348.8 731.0Z"/>
<path fill="#5a3c0a" d="M1375.4 732.5L1377.8 728.8L1378.0 709.3L1375.5 712.8Z"/>
<path fill="#c88004" d="M1348.8 731.0L1375.4 732.5L1375.5 712.8L1348.9 711.4Z"/>
<path fill="#4e4324" d="M1375.5 712.8L1378.0 709.3L1378.2 689.7L1375.7 693.0Z"/>
<path fill="#4c401e" d="M1349.1 691.7L1375.7 693.0L1378.2 689.7L1351.7 688.4Z"/>
<path fill="#c5a75f" d="M1348.9 711.4L1375.5 712.8L1375.7 693.0L1349.1 691.7Z"/>
</g>
<g fill="none" stroke="#000" stroke-width="6.1"><path d="M1861.20 65.10H1908.15" stroke-linecap="butt"/><path d="M1896.80 55.95L1909.15 65.10L1896.80 74.25" stroke-linecap="round" stroke-linejoin="round"/></g>
<g fill="none" stroke="#000" stroke-width="6.1"><path d="M1861.20 200.20H1908.15" stroke-linecap="butt"/><path d="M1896.80 191.05L1909.15 200.20L1896.80 209.35" stroke-linecap="round" stroke-linejoin="round"/></g>
<g fill="none" stroke="#000" stroke-width="6.1"><path d="M1861.20 335.20H1908.15" stroke-linecap="butt"/><path d="M1896.80 326.05L1909.15 335.20L1896.80 344.35" stroke-linecap="round" stroke-linejoin="round"/></g>
<g fill="none" stroke="#000" stroke-width="6.1"><path d="M1861.20 457.70H1908.15" stroke-linecap="butt"/><path d="M1896.80 448.55L1909.15 457.70L1896.80 466.85" stroke-linecap="round" stroke-linejoin="round"/></g>
<g fill="none" stroke="#000" stroke-width="6.1"><path d="M1861.20 593.00H1908.15" stroke-linecap="butt"/><path d="M1896.80 583.85L1909.15 593.00L1896.80 602.15" stroke-linecap="round" stroke-linejoin="round"/></g>
<g fill="none" stroke="#000" stroke-width="6.1"><path d="M1858.90 720.60H1905.95" stroke-linecap="butt"/><path d="M1894.60 711.45L1906.95 720.60L1894.60 729.75" stroke-linecap="round" stroke-linejoin="round"/></g>
<g fill="none" stroke="#000" stroke-width="6.1"><path d="M1859.20 849.40H1905.95" stroke-linecap="butt"/><path d="M1894.60 840.25L1906.95 849.40L1894.60 858.55" stroke-linecap="round" stroke-linejoin="round"/></g>
<g fill="none" stroke="#000" stroke-width="6.1"><path d="M1859.20 984.40H1905.95" stroke-linecap="butt"/><path d="M1894.60 975.25L1906.95 984.40L1894.60 993.55" stroke-linecap="round" stroke-linejoin="round"/></g>
<g fill="none" stroke="#000" stroke-width="6.1"><path d="M1858.90 1119.30H1905.55" stroke-linecap="butt"/><path d="M1894.20 1110.15L1906.55 1119.30L1894.20 1128.45" stroke-linecap="round" stroke-linejoin="round"/></g>
<g fill="none" stroke="#000" stroke-width="6.1"><path d="M1858.90 1256.00H1905.55" stroke-linecap="butt"/><path d="M1894.20 1246.85L1906.55 1256.00L1894.20 1265.15" stroke-linecap="round" stroke-linejoin="round"/></g>
<g fill="none" stroke="#000" stroke-width="6.1"><path d="M2293.30 264.00H2340.25" stroke-linecap="butt"/><path d="M2328.90 254.85L2341.25 264.00L2328.90 273.15" stroke-linecap="round" stroke-linejoin="round"/></g>
<g fill="none" stroke="#000" stroke-width="6.1"><path d="M2293.30 434.60H2340.25" stroke-linecap="butt"/><path d="M2328.90 425.45L2341.25 434.60L2328.90 443.75" stroke-linecap="round" stroke-linejoin="round"/></g>
<g fill="none" stroke="#000" stroke-width="6.1"><path d="M2293.30 605.20H2340.25" stroke-linecap="butt"/><path d="M2328.90 596.05L2341.25 605.20L2328.90 614.35" stroke-linecap="round" stroke-linejoin="round"/></g>
<g fill="none" stroke="#000" stroke-width="6.1"><path d="M2293.30 775.80H2340.25" stroke-linecap="butt"/><path d="M2328.90 766.65L2341.25 775.80L2328.90 784.95" stroke-linecap="round" stroke-linejoin="round"/></g>
<g fill="none" stroke="#000" stroke-width="6.1"><path d="M2293.30 946.50H2340.25" stroke-linecap="butt"/><path d="M2328.90 937.35L2341.25 946.50L2328.90 955.65" stroke-linecap="round" stroke-linejoin="round"/></g>
<g fill="none" stroke="#000" stroke-width="6.1"><path d="M1657.70 422.50H1704.55" stroke-linecap="butt"/><path d="M1693.20 413.35L1705.55 422.50L1693.20 431.65" stroke-linecap="round" stroke-linejoin="round"/></g>
<g fill="none" stroke="#000" stroke-width="7.6"><path d="M472.00 431.90H544.40" stroke-linecap="butt"/><path d="M529.70 420.00L545.40 431.90L529.70 443.80" stroke-linecap="round" stroke-linejoin="round"/></g>
<g fill="none" stroke="#000" stroke-width="5.8" transform="rotate(-2.8 660 1068.1)"><path d="M660.00 1068.10H736.30" stroke-linecap="butt"/><path d="M723.80 1058.10L737.30 1068.10L723.80 1078.10" stroke-linecap="round" stroke-linejoin="round"/></g>
<g fill="none" stroke="#000" stroke-width="6.2"><path d="M1144.10 1054.50H1607.40" stroke-linecap="butt"/><path d="M1595.90 1045.00L1608.40 1054.50L1595.90 1064.00" stroke-linecap="round" stroke-linejoin="round"/></g>
<path d="M721 323C721.3 270 737 245.5 775 236.3" fill="none" stroke="#000" stroke-width="5.9" stroke-linecap="butt"/>
<polygon points="785.0,235.2 771.5,225.4 771.5,245.2" fill="#000" stroke="#000" stroke-width="4" stroke-linejoin="round"/>
<path d="M1094.7 226C1125 231 1140 258 1140 312" fill="none" stroke="#000" stroke-width="5.9" stroke-linecap="butt"/>
<polygon points="1139.9,325.6 1130.9,313.0 1150.7,313.0" fill="#000" stroke="#000" stroke-width="4" stroke-linejoin="round"/>
<path d="M1098.6 525.5C1092 580 1102 611 1132 616" fill="none" stroke="#000" stroke-width="5.9" stroke-linecap="butt"/>
<polygon points="1146.0,615.2 1132.0,607.6 1134.5,626.0" fill="#000" stroke="#000" stroke-width="4" stroke-linejoin="round"/>
<path d="M1435 604.4C1465 607 1476 580 1475.6 540" fill="none" stroke="#000" stroke-width="5.9" stroke-linecap="butt"/>
<polygon points="1475.5,524.6 1466.2,538.6 1486.2,538.2" fill="#000" stroke="#000" stroke-width="4" stroke-linejoin="round"/>
<text x="330" y="180" font-size="62" font-weight="bold" text-anchor="middle">Image</text>
<text x="330" y="267.3" font-size="62" font-weight="bold" text-anchor="middle">input</text>
<text x="739.5" y="410.1" font-size="38.0" font-weight="bold" text-anchor="middle">Vision</text>
<text x="739.5" y="462.0" font-size="38.0" font-weight="bold" text-anchor="middle">Encoder</text>
<text x="1110.5" y="410.1" font-size="38.0" font-weight="bold" text-anchor="middle">Pixel</text>
<text x="1110.5" y="462.0" font-size="38.0" font-weight="bold" text-anchor="middle">shuffle</text>
<text x="1480.5" y="410.1" font-size="38.0" font-weight="bold" text-anchor="middle">Linear</text>
<text x="1480.5" y="462.0" font-size="38.0" font-weight="bold" text-anchor="middle">layer</text>
<text x="946.5" y="1068.2" font-size="38.0" font-weight="bold" text-anchor="middle">Tokenizer</text>
<text x="309.6" y="976" font-size="48.2" font-weight="bold" text-anchor="middle">Text input</text>
<text x="310" y="1080.9" font-size="75" font-weight="bold" text-anchor="middle">What is this?</text>
<text x="2087.5" y="800" font-size="38.0" font-weight="bold" text-anchor="middle">Language</text>
<text x="2087.5" y="852" font-size="38.0" font-weight="bold" text-anchor="middle">Model</text>
<rect x="14.35" y="1001.45" width="589.7" height="107.6" fill="none" stroke="#000" stroke-width="5.7"/>
<text x="1779.7" y="75.25" font-size="28.9" font-weight="normal" text-anchor="middle">(1, 1)</text>
<text x="1779.7" y="207.25" font-size="28.9" font-weight="normal" text-anchor="middle">(1,2)</text>
<text x="1779.7" y="339.25000000000006" font-size="28.9" font-weight="normal" text-anchor="middle">(1, 3)</text>
<text x="1779.7" y="471.25000000000006" font-size="28.9" font-weight="normal" text-anchor="middle">(2, 1)</text>
<text x="1779.7" y="602.95" font-size="28.9" font-weight="normal" text-anchor="middle">(2,2)</text>
<text x="1779.7" y="734.85" font-size="28.9" font-weight="normal" text-anchor="middle">(2, 3)</text>
<text x="1775.8" y="867.9" font-size="28.9" font-weight="normal" text-anchor="middle">What</text>
<text x="1775.8" y="999.7" font-size="28.9" font-weight="normal" text-anchor="middle">is</text>
<text x="1775.8" y="1132.3" font-size="28.9" font-weight="normal" text-anchor="middle">this</text>
<text x="1775.8" y="1263.7" font-size="28.9" font-weight="normal" text-anchor="middle">?</text>
<text x="2450" y="278.8" font-size="28.9" font-weight="normal" text-anchor="middle">The</text>
<text x="2450" y="449.20000000000005" font-size="28.9" font-weight="normal" text-anchor="middle">Hugging</text>
<text x="2450" y="620.1" font-size="28.9" font-weight="normal" text-anchor="middle">Face</text>
<text x="2450" y="790.5" font-size="28.9" font-weight="normal" text-anchor="middle">emoji</text>
<text x="2450" y="961.2" font-size="28.9" font-weight="normal" text-anchor="middle">!</text>
<g transform="translate(161.6 282.3) scale(3.406)">
<path d="M47.2119 76.5C66.4037 76.5 81.9619 60.9419 81.9619 41.75C81.9619 22.5581 66.4037 7 47.2119 7C28.02 7 12.4619 22.5581 12.4619 41.75C12.4619 60.9419 28.02 76.5 47.2119 76.5Z" fill="#FFD21E"/>
<path d="M81.9619 41.75C81.9619 22.5581 66.4037 7 47.2119 7C28.02 7 12.4619 22.5581 12.4619 41.75C12.4619 60.9419 28.02 76.5 47.2119 76.5C66.4037 76.5 81.9619 60.9419 81.9619 41.75ZM8.46185 41.75C8.46185 20.349 25.8108 3 47.2119 3C68.6129 3 85.9619 20.349 85.9619 41.75C85.9619 63.151 68.6129 80.5 47.2119 80.5C25.8108 80.5 8.46185 63.151 8.46185 41.75Z" fill="#FF9D0B"/>
<path d="M58.5024 32.2915C59.7768 32.7415 60.2839 35.3615 61.5713 34.6769C64.0095 33.3805 64.9351 30.353 63.6387 27.9148C62.3423 25.4767 59.3148 24.5511 56.8766 25.8475C54.4384 27.1439 53.5128 30.1714 54.8092 32.6096C55.4211 33.7604 57.3632 31.8892 58.5024 32.2915Z" fill="#32343D"/>
<path d="M34.9454 32.2915C33.671 32.7415 33.164 35.3615 31.8766 34.6769C29.4384 33.3805 28.5128 30.353 29.8092 27.9148C31.1056 25.4767 34.1331 24.5511 36.5713 25.8475C39.0095 27.1439 39.9351 30.1714 38.6387 32.6096C38.0268 33.7604 36.0846 31.8892 34.9454 32.2915Z" fill="#32343D"/>
<path d="M46.9619 56.289C56.7903 56.289 59.9619 47.5261 59.9619 43.0262C59.9619 40.6875 58.3898 41.4236 55.8718 42.6702C53.5449 43.8222 50.4102 45.4101 46.9619 45.4101C39.7822 45.4101 33.9619 38.5263 33.9619 43.0262C33.9619 47.5261 37.1334 56.289 46.9619 56.289Z" fill="#32343D"/>
<clipPath id="hfm"><path d="M46.9619 56.289C56.7903 56.289 59.9619 47.5261 59.9619 43.0262C59.9619 40.6875 58.3898 41.4236 55.8718 42.6702C53.5449 43.8222 50.4102 45.4101 46.9619 45.4101C39.7822 45.4101 33.9619 38.5263 33.9619 43.0262C33.9619 47.5261 37.1334 56.289 46.9619 56.289Z"/></clipPath>
<g clip-path="url(#hfm)">
<path d="M47.2119 66.5C52.0018 66.5 55.8848 62.617 55.8848 57.8271C55.8848 54.0962 53.5291 50.9156 50.224 49.6915C50.1023 49.6464 49.9794 49.604 49.8553 49.5643C49.0219 49.2979 48.1337 52.1623 47.2119 52.1623C46.3506 52.1623 45.5186 49.2797 44.7332 49.5135C41.151 50.5799 38.5389 53.8984 38.5389 57.8271C38.5389 62.617 42.4219 66.5 47.2119 66.5Z" fill="#FF323D"/>
</g>
<path d="M70.7119 37C72.5068 37 73.9619 35.5449 73.9619 33.75C73.9619 31.9551 72.5068 30.5 70.7119 30.5C68.9169 30.5 67.4619 31.9551 67.4619 33.75C67.4619 35.5449 68.9169 37 70.7119 37Z" fill="#FF9D0B"/>
<path d="M24.2119 37C26.0068 37 27.4619 35.5449 27.4619 33.75C27.4619 31.9551 26.0068 30.5 24.2119 30.5C22.4169 30.5 20.9619 31.9551 20.9619 33.75C20.9619 35.5449 22.4169 37 24.2119 37Z" fill="#FF9D0B"/>
<path d="M17.5238 48C15.9048 48 14.4578 48.665 13.4488 49.871C12.8248 50.618 12.1728 51.822 12.1198 53.625C11.4408 53.43 10.7878 53.321 10.1778 53.321C8.6278 53.321 7.2278 53.915 6.2378 54.994C4.9658 56.379 4.4008 58.081 4.6468 59.784C4.7638 60.595 5.0348 61.322 5.4398 61.995C4.5858 62.686 3.9568 63.648 3.6528 64.805C3.4148 65.712 3.1708 67.601 4.4448 69.547C4.3638 69.674 4.2878 69.806 4.2168 69.941C3.4508 71.395 3.4018 73.038 4.0778 74.568C5.1028 76.887 7.6498 78.714 12.5958 80.675C15.6728 81.895 18.4878 82.675 18.5128 82.682C22.5808 83.737 26.2598 84.273 29.4448 84.273C35.2988 84.273 39.4898 82.48 41.9018 78.944C45.7838 73.25 45.2288 68.042 40.2058 63.022C37.4258 60.244 35.5778 56.148 35.1928 55.249C34.4168 52.587 32.3648 49.628 28.9538 49.628H28.9528C28.6658 49.628 28.3758 49.651 28.0898 49.696C26.5958 49.931 25.2898 50.791 24.3568 52.085C23.3498 50.833 22.3718 49.837 21.4868 49.275C20.1528 48.429 18.8198 48 17.5238 48ZM17.5238 52C18.0338 52 18.6568 52.217 19.3438 52.653C21.4768 54.006 25.5928 61.081 27.0998 63.833C27.6048 64.755 28.4678 65.145 29.2448 65.145C30.7868 65.145 31.9908 63.612 29.3858 61.664C25.4688 58.733 26.8428 53.942 28.7128 53.647C28.7948 53.634 28.8758 53.628 28.9538 53.628C30.6538 53.628 31.4038 56.558 31.4038 56.558C31.4038 56.558 33.6018 62.078 37.3778 65.851C41.1538 69.625 41.3488 72.654 38.5968 76.69C36.7198 79.442 33.1268 80.273 29.4448 80.273C25.6258 80.273 21.7108 79.379 19.5168 78.81C19.4088 78.782 6.0658 75.013 7.7558 71.805C8.0398 71.266 8.5078 71.05 9.0968 71.05C11.4768 71.05 15.8058 74.592 17.6668 74.592C18.0828 74.592 18.3758 74.415 18.4958 73.983C19.2888 71.138 6.4388 69.942 7.5218 65.821C7.7128 65.092 8.2308 64.796 8.9588 64.797C12.1038 64.797 19.1598 70.328 20.6388 70.328C20.7518 70.328 20.8328 70.295 20.8768 70.225C21.6178 69.029 21.2118 68.194 15.9888 65.033C10.7658 61.871 7.0998 59.969 9.1848 57.699C9.4248 57.437 9.7648 57.321 10.1778 57.321C13.3488 57.322 20.8408 64.14 20.8408 64.14C20.8408 64.14 22.8628 66.243 24.0858 66.243C24.3668 66.243 24.6058 66.132 24.7678 65.858C25.6348 64.396 16.7148 57.636 16.2118 54.847C15.8708 52.957 16.4508 52 17.5238 52Z" fill="#FF9D0B"/>
<path d="M38.5967 76.6898C41.3487 72.6538 41.1537 69.6248 37.3777 65.8508C33.6017 62.0778 31.4037 56.5578 31.4037 56.5578C31.4037 56.5578 30.5827 53.3518 28.7127 53.6468C26.8427 53.9418 25.4697 58.7328 29.3867 61.6638C33.3037 64.5938 28.6067 66.5848 27.0997 63.8328C25.5927 61.0808 21.4777 54.0058 19.3437 52.6528C17.2107 51.2998 15.7087 52.0578 16.2117 54.8468C16.7147 57.6358 25.6357 64.3958 24.7677 65.8588C23.8997 67.3208 20.8407 64.1398 20.8407 64.1398C20.8407 64.1398 11.2687 55.4288 9.18465 57.6988C7.10065 59.9688 10.7657 61.8708 15.9887 65.0328C21.2127 68.1938 21.6177 69.0288 20.8767 70.2248C20.1347 71.4208 8.60465 61.6998 7.52165 65.8208C6.43965 69.9418 19.2887 71.1378 18.4957 73.9828C17.7027 76.8288 9.44465 68.5978 7.75565 71.8048C6.06565 75.0128 19.4087 78.7818 19.5167 78.8098C23.8267 79.9278 34.7727 82.2968 38.5967 76.6898Z" fill="#FFD21E"/>
<path d="M77.3999 48C79.0189 48 80.4659 48.665 81.4749 49.871C82.0989 50.618 82.7509 51.822 82.8039 53.625C83.4829 53.43 84.1359 53.321 84.7459 53.321C86.2959 53.321 87.6959 53.915 88.6859 54.994C89.9579 56.379 90.5229 58.081 90.2769 59.784C90.1599 60.595 89.8889 61.322 89.4839 61.995C90.3379 62.686 90.9669 63.648 91.2709 64.805C91.5089 65.712 91.7529 67.601 90.4789 69.547C90.5599 69.674 90.6359 69.806 90.7069 69.941C91.4729 71.395 91.5219 73.038 90.8459 74.568C89.8209 76.887 87.2739 78.714 82.3279 80.675C79.2509 81.895 76.4359 82.675 76.4109 82.682C72.3429 83.737 68.6639 84.273 65.4789 84.273C59.6249 84.273 55.4339 82.48 53.0219 78.944C49.1399 73.25 49.6949 68.042 54.7179 63.022C57.4979 60.244 59.3459 56.148 59.7309 55.249C60.5069 52.587 62.5589 49.628 65.9699 49.628H65.9709C66.2579 49.628 66.5479 49.651 66.8339 49.696C68.3279 49.931 69.6339 50.791 70.5669 52.085C71.5739 50.833 72.5519 49.837 73.4369 49.275C74.7709 48.429 76.1039 48 77.3999 48ZM77.3999 52C76.8899 52 76.2669 52.217 75.5799 52.653C73.4469 54.006 69.3309 61.081 67.8239 63.833C67.3189 64.755 66.4559 65.145 65.6789 65.145C64.1369 65.145 62.9329 63.612 65.5379 61.664C69.4549 58.733 68.0809 53.942 66.2109 53.647C66.1289 53.634 66.0479 53.628 65.9699 53.628C64.2699 53.628 63.5199 56.558 63.5199 56.558C63.5199 56.558 61.3219 62.078 57.5459 65.851C53.7699 69.625 53.5749 72.654 56.3269 76.69C58.2039 79.442 61.7969 80.273 65.4789 80.273C69.2979 80.273 73.2129 79.379 75.4069 78.81C75.5149 78.782 88.8579 75.013 87.1679 71.805C86.8839 71.266 86.4159 71.05 85.8269 71.05C83.4469 71.05 79.1179 74.592 77.2569 74.592C76.8409 74.592 76.5479 74.415 76.4279 73.983C75.6349 71.138 88.4849 69.942 87.4019 65.821C87.2109 65.092 86.6929 64.796 85.9649 64.797C82.8199 64.797 75.7639 70.328 74.2849 70.328C74.1719 70.328 74.0909 70.295 74.0469 70.225C73.3059 69.029 73.7119 68.194 78.9349 65.033C84.1579 61.871 87.8239 59.969 85.7389 57.699C85.4989 57.437 85.1589 57.321 84.7459 57.321C81.5749 57.322 74.0829 64.14 74.0829 64.14C74.0829 64.14 72.0609 66.243 70.8379 66.243C70.5569 66.243 70.3179 66.132 70.1559 65.858C69.2889 64.396 78.2089 57.636 78.7119 54.847C79.0529 52.957 78.4729 52 77.3999 52Z" fill="#FF9D0B"/>
<path d="M56.3271 76.6898C53.5751 72.6538 53.7701 69.6248 57.5461 65.8508C61.3221 62.0778 63.5201 56.5578 63.5201 56.5578C63.5201 56.5578 64.3411 53.3518 66.2111 53.6468C68.0811 53.9418 69.4541 58.7328 65.5371 61.6638C61.6201 64.5938 66.3171 66.5848 67.8241 63.8328C69.3311 61.0808 73.4461 54.0058 75.5801 52.6528C77.7131 51.2998 79.2151 52.0578 78.7121 54.8468C78.2091 57.6358 69.2881 64.3958 70.1561 65.8588C71.0241 67.3208 74.0831 64.1398 74.0831 64.1398C74.0831 64.1398 83.6551 55.4288 85.7391 57.6988C87.8231 59.9688 84.1581 61.8708 78.9351 65.0328C73.7111 68.1938 73.3061 69.0288 74.0471 70.2248C74.7891 71.4208 86.3191 61.6998 87.4021 65.8208C88.4841 69.9418 75.6351 71.1378 76.4281 73.9828C77.2211 76.8288 85.4791 68.5978 87.1681 71.8048C88.8581 75.0128 75.5151 78.7818 75.4071 78.8098C71.0971 79.9278 60.1511 82.2968 56.3271 76.6898Z" fill="#FFD21E"/>
</g>

<g>
<defs>
<radialGradient id="mface" gradientUnits="userSpaceOnUse" cx="2048" cy="684" r="150">
<stop offset="0" stop-color="#D6F6E2"/><stop offset="0.35" stop-color="#E4EFB9"/><stop offset="0.7" stop-color="#EEE58A"/><stop offset="1" stop-color="#F6DC63"/>
</radialGradient>
<radialGradient id="mhand" gradientUnits="userSpaceOnUse" cx="2048" cy="684" r="220">
<stop offset="0" stop-color="#E0F2C8"/><stop offset="1" stop-color="#EDEB9E"/>
</radialGradient>
</defs>
<path d="M1990.0 590.1C1994.9 571.8 2008.3 557.2 2022.3 545.0C2025.4 536.4 2029.1 529.1 2035.2 526.1C2038.2 524.8 2040.0 526.1 2040.7 528.1C2047.4 524.2 2054.7 520.0 2062.3 517.1C2068.1 508.4 2075.4 496.2 2084.0 489.4C2087.0 488.2 2088.6 490.0 2087.7 493.7C2086.4 499.8 2084.0 505.9 2081.8 511.4L2085.5 512.0C2095.0 497.4 2107.2 479.1 2121.2 467.8C2123.7 466.2 2125.5 467.8 2124.5 470.5C2119.4 483.9 2110.8 498.6 2102.1 510.2C2121.8 511.4 2140.1 516.9 2154.8 524.5C2167.0 512.0 2185.3 491.3 2204.8 476.4C2207.5 474.8 2209.1 476.6 2207.5 479.7C2200.0 493.7 2182.9 515.7 2167.6 533.4C2176.8 525.4 2186.5 518.1 2195.7 515.1C2198.5 514.5 2199.0 516.9 2197.5 519.3C2192.6 527.9 2185.3 536.4 2178.0 543.8C2185.3 551.1 2191.4 559.6 2195.1 567.6C2198.1 565.7 2201.2 564.5 2204.2 565.1C2206.3 565.7 2206.1 568.2 2204.2 570.0C2202.6 571.8 2201.2 573.7 2199.7 574.9C2202.4 582.8 2204.2 591.4 2204.8 600.0Z" fill="#EE8331"/>
<path d="M1990.1 590.1C1988.5 603.6 1990.4 620.4 1993.1 634.1C1994.6 646.3 1998.0 658.5 2003.3 669.2C2011.7 682.9 2025.5 699.7 2046.8 711.2C2062.1 720.3 2089.5 725.3 2112.4 722.0C2138.4 717.3 2161.3 706.6 2178.1 689.8C2184.2 683.7 2190.3 676.1 2194.8 670.0C2199.4 668.4 2204.0 668.4 2207.8 666.1C2210.1 664.6 2209.3 662.3 2206.3 662.8C2203.2 663.4 2200.2 664.3 2197.9 665.4C2202.5 655.5 2205.2 646.3 2206.3 637.1C2208.6 623.4 2208.6 611.2 2204.8 600.1Z" fill="#EE8331"/>
<ellipse cx="2132.5" cy="458.3" rx="6.3" ry="2.9" transform="rotate(-52 2132.5 458.3)" fill="#EE8331"/>
<ellipse cx="2214.6" cy="561.8" rx="4.2" ry="3" transform="rotate(-25 2214.6 561.8)" fill="#EE8331"/>
<ellipse cx="2218.0" cy="664.9" rx="4" ry="3" transform="rotate(-15 2218.0 664.9)" fill="#EE8331"/>
<circle cx="2085.3" cy="627.5" r="90.0" fill="url(#mface)"/>
<path d="M2039.4 549.3C2042.5 542.5 2047.4 535.2 2052.9 533.0C2055.3 532.5 2055.7 534.6 2054.7 537.0L2053.7 541.9C2060.8 539.5 2069.3 537.4 2076.9 536.4C2081.6 530.3 2087.7 523.6 2092.5 522.0C2094.7 521.8 2094.7 524.0 2093.8 526.1L2089.1 536.4C2096.2 536.7 2102.3 537.4 2107.8 538.3C2110.8 534.6 2114.5 531.6 2117.0 530.9C2118.4 530.9 2118.2 532.8 2117.6 534.2L2114.8 540.3L2118.2 541.3C2123.1 535.8 2129.2 529.7 2133.4 528.1C2135.3 527.9 2135.3 530.1 2134.4 531.8L2127.3 545.0L2129.8 546.4C2131.6 545.0 2134.0 543.8 2135.3 544.0C2136.5 544.5 2136.0 546.0 2135.3 547.2L2134.0 549.9C2142.6 554.7 2151.1 562.1 2157.2 568.8C2165.8 564.5 2174.3 559.6 2180.4 557.8C2182.3 557.7 2182.3 559.4 2181.0 560.8C2175.5 567.0 2169.4 572.4 2163.3 577.3L2165.2 580.4C2168.2 579.2 2171.3 578.5 2172.5 579.2C2173.3 580.1 2172.5 581.4 2171.3 582.2L2168.2 584.7L2169.4 587.1C2173.7 585.3 2178.6 584.0 2181.0 585.0C2182.3 586.0 2181.0 587.7 2179.2 588.9L2171.9 594.4L2160.9 600.0L2099.9 600.0Z" fill="url(#mface)"/>
<path d="M2164.3 574.6C2170.4 571.5 2177.3 570.0 2180.3 571.2C2181.9 572.1 2181.1 573.7 2179.3 574.6L2171.2 578.9L2173.5 581.9C2176.5 581.0 2179.9 581.0 2181.1 582.5C2181.7 584.0 2179.9 585.3 2178.1 585.9L2169.7 589.5C2173.5 595.9 2175.8 602.8 2176.5 610.0C2178.1 620.4 2177.3 631.0 2175.8 641.7C2175.0 653.2 2172.3 664.6 2167.1 675.3C2172.0 674.1 2177.3 671.0 2181.9 668.0C2177.3 676.1 2168.9 684.1 2155.9 690.3C2161.3 690.6 2167.1 689.3 2171.6 687.2C2159.7 700.9 2138.4 711.6 2115.5 716.2C2092.6 719.9 2071.2 718.3 2056.0 712.2L2049.9 712.7C2062.1 721.1 2089.5 725.0 2112.4 722.0C2138.4 717.3 2161.3 706.6 2178.1 689.8C2184.2 683.7 2190.3 676.1 2194.8 670.0L2197.9 665.4C2202.5 655.5 2205.2 646.3 2206.3 637.1C2208.6 623.4 2208.6 611.2 2204.8 600.1L2199.4 579.2Z" fill="#EE8331"/>
<path d="M1995.7 631.8C1985.8 630.3 1975.1 628.0 1965.9 622.6C1959.8 619.6 1956.0 615.8 1958.0 613.5C1960.6 611.2 1966.7 614.3 1974.3 618.1C1967.5 613.5 1959.8 608.9 1955.3 604.3C1953.0 601.3 1954.5 598.2 1958.3 599.0C1965.2 600.5 1974.3 605.9 1983.5 612.0C1975.1 604.3 1965.9 596.7 1959.8 590.6C1957.5 587.5 1959.1 584.5 1962.9 585.6C1970.5 588.3 1981.2 598.2 1988.8 606.6C1983.5 598.2 1976.6 589.8 1972.8 583.7C1971.3 580.7 1973.6 578.9 1976.6 580.4C1984.3 584.5 1991.9 595.9 1995.7 605.9C1993.4 599.8 1991.1 592.9 1991.1 587.5C1991.6 584.5 1994.2 584.0 1996.2 586.5C1998.8 591.4 1999.5 600.5 1998.8 608.2Z" fill="url(#mhand)" stroke="#EE8331" stroke-width="3.0" stroke-linejoin="round"/>
<path d="M2165.1 635.6C2163.6 628.0 2165.9 620.4 2172.0 615.8C2178.1 611.2 2184.2 608.2 2190.3 606.3C2194.1 605.9 2195.2 608.9 2192.6 611.5C2189.5 615.0 2186.5 618.8 2184.9 622.6C2191.8 615.8 2200.9 608.9 2209.3 606.6C2213.2 606.3 2214.4 609.4 2211.6 612.0C2206.3 616.5 2200.2 621.9 2196.4 627.2C2204.0 621.9 2213.9 616.5 2222.3 615.8C2226.1 616.1 2226.6 619.1 2223.5 621.1C2216.2 624.9 2207.1 630.3 2200.9 635.6C2207.8 632.6 2216.2 630.3 2222.3 631.0C2225.7 632.0 2225.4 635.0 2222.0 636.4C2215.4 638.7 2208.6 641.0 2203.2 644.0C2208.6 643.2 2214.7 643.2 2218.5 644.8C2220.8 646.3 2219.6 649.0 2216.2 649.7C2205.5 652.4 2190.3 653.6 2179.6 650.9C2172.0 648.6 2166.6 643.2 2165.1 635.6Z" fill="url(#mhand)" stroke="#EE8331" stroke-width="3.0" stroke-linejoin="round"/>
<ellipse cx="2008.4" cy="612.4" rx="5.6" ry="3.3" transform="rotate(12 2008.4 612.4)" fill="#F0882F"/>
<ellipse cx="2133.0" cy="608.5" rx="7.2" ry="4" transform="rotate(-6 2133.0 608.5)" fill="#F0882F"/>
<path d="M2033.4 570.0C2042.2 570.0 2048.0 580.7 2047.7 592.9C2047.4 599.8 2046.5 604.3 2045.0 608.5C2042.5 605.4 2039.5 602.4 2036.4 601.7C2034.6 605.1 2034.0 610.0 2033.4 614.6C2025.5 610.0 2019.4 601.3 2019.0 589.8C2019.0 579.2 2024.8 570.3 2033.4 570.0Z" fill="#0F0B1E"/>
<path d="M2101.0 566.2C2110.9 566.2 2118.2 576.1 2117.9 588.3C2117.6 599.0 2110.9 607.4 2101.5 611.5C2101.1 607.4 2100.2 603.3 2097.2 600.5C2093.8 602.0 2091.1 605.1 2088.3 608.2C2085.0 603.6 2083.8 595.9 2084.1 588.3C2084.4 576.1 2091.1 566.2 2101.0 566.2Z" fill="#0F0B1E"/>
<path d="M2050.2 612.7C2049.9 611.5 2050.8 610.9 2052.0 611.2C2059.0 612.7 2066.7 612.1 2074.0 610.0C2075.2 609.7 2076.1 610.4 2076.1 611.8C2077.3 621.9 2075.1 632.6 2069.7 638.7C2067.4 641.4 2064.8 642.3 2062.8 642.0C2060.6 642.0 2057.5 640.5 2055.2 637.1C2051.4 631.0 2049.6 621.9 2050.2 612.7Z" fill="#0F0B1E"/>
<path d="M2053.7 633.8C2054.8 630.7 2058.3 629.8 2061.3 631.3C2062.4 632.0 2063.0 632.9 2063.3 633.8C2063.9 632.6 2064.8 631.3 2066.4 630.7C2069.4 629.5 2073.1 630.7 2074.3 632.3C2073.1 635.6 2071.2 638.4 2068.9 639.9C2066.7 641.7 2064.4 642.3 2062.8 642.0C2060.6 642.0 2057.5 640.5 2055.5 637.5C2054.8 636.2 2054.1 635.0 2053.7 633.8Z" fill="#E8321F"/>
<path d="M1972.8 702.5C1985.8 686.0 2004.1 676.8 2019.4 672.5L2023.2 675.3L2036.1 674.2L2039.5 678.7C2042.5 679.3 2045.3 681.4 2046.5 684.8L2062.8 735.6L2005.3 755.9Z" fill="#FFC35C"/>
<path d="M1973.6 703.7L2037.7 681.7C2041.0 680.8 2043.8 682.3 2045.0 685.4L2061.3 735.6L2005.6 754.6Z" fill="#0F0B1E"/>
<path d="M1975.4 697.6C1985.8 686.0 2002.6 676.8 2019.4 674.4C2020.9 674.4 2020.9 675.6 2019.7 676.2C2005.6 679.9 1990.4 688.3 1978.2 698.5Z" fill="#0F0B1E"/>
<path d="M1980.9 696.0C1994.9 686.0 2014.8 678.7 2033.9 676.8C2035.8 676.8 2035.5 678.3 2034.0 678.8C2016.3 682.2 1998.0 689.0 1985.0 697.0Z" fill="#0F0B1E"/>
<path d="M1988.8 694.4C2004.1 687.5 2020.9 682.9 2037.7 680.2C2039.2 680.2 2038.9 681.4 2037.7 681.9L1990.4 697.9Z" fill="#0F0B1E"/>
<path d="M1960.9 664.6C1965.2 669.2 1969.8 679.9 1971.3 692.1L1969.8 693.9C1966.7 682.9 1963.7 673.8 1960.9 664.6Z" fill="#0F0B1E"/>
<path d="M1973.3 663.7C1978.2 669.2 1982.7 676.8 1985.8 683.2L1975.4 693.9C1973.9 684.5 1972.8 673.8 1973.3 663.7Z" fill="#0F0B1E"/>
<g transform="translate(2016.8 714.7) rotate(-21)"><rect x="-15.5" y="-10.5" width="31" height="21" rx="3.5" fill="#FFC35C"/><g fill="none" stroke="#0F0B1E" stroke-width="1.1"><ellipse cx="0" cy="0" rx="8.6" ry="3.1" transform="rotate(24)"/><ellipse cx="0" cy="0" rx="8.6" ry="3.1" transform="rotate(84)"/><ellipse cx="0" cy="0" rx="8.6" ry="3.1" transform="rotate(144)"/></g></g>
</g>
</svg>
</body>
</html>
